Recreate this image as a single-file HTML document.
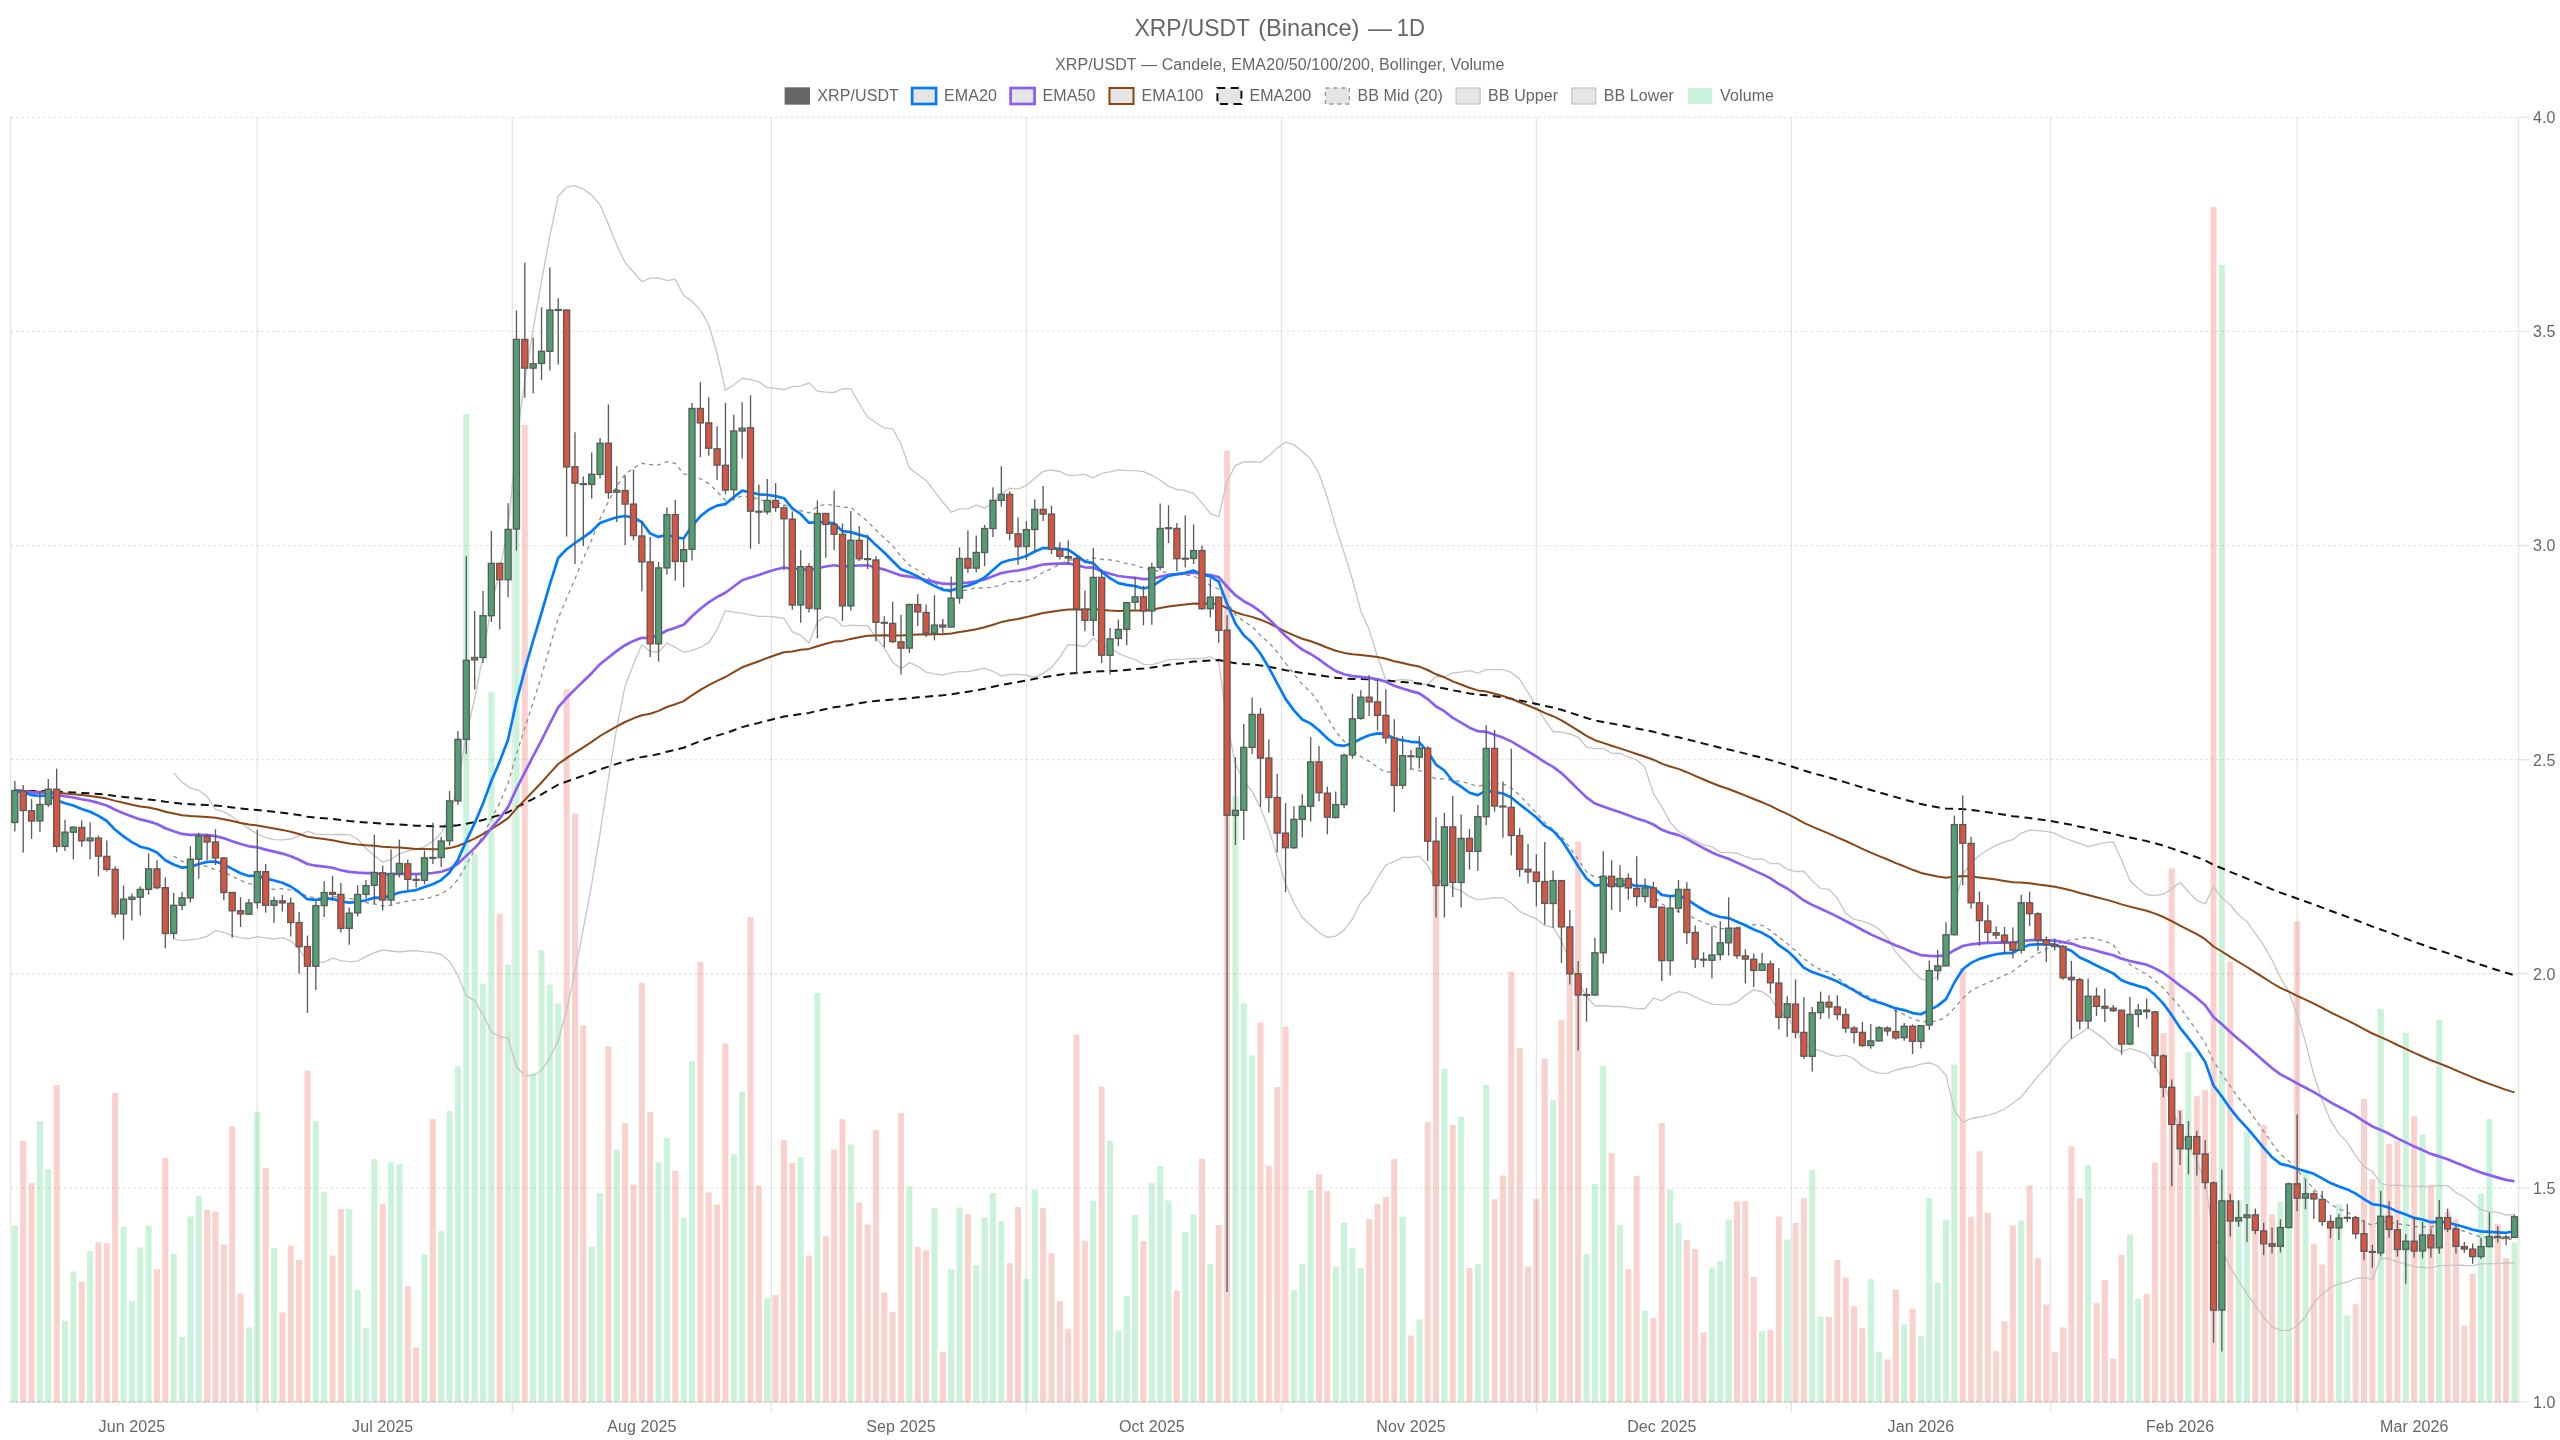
<!DOCTYPE html>
<html><head><meta charset="utf-8"><title>XRP/USDT</title>
<style>html,body{margin:0;padding:0;background:#fff;width:2560px;height:1440px;overflow:hidden}</style></head>
<body>
<svg width="2560" height="1440" viewBox="0 0 2560 1440" style="position:absolute;left:0;top:0;will-change:transform">
<g stroke="rgba(0,0,0,0.1)" stroke-width="1.33" fill="none">
<path d="M10.67 117.33 V1402.00"/>
<path d="M257.29 117.33 V1412.70"/>
<path d="M512.27 117.33 V1412.70"/>
<path d="M771.43 117.33 V1412.70"/>
<path d="M1026.41 117.33 V1412.70"/>
<path d="M1281.39 117.33 V1412.70"/>
<path d="M1536.37 117.33 V1412.70"/>
<path d="M1791.35 117.33 V1412.70"/>
<path d="M2050.51 117.33 V1412.70"/>
<path d="M2297.13 117.33 V1412.70"/>
<path d="M2518.67 117.33 V1402.00"/>
<path d="M10.67 1402.00 H2518.67"/>
</g>
<g stroke="rgba(0,0,0,0.1)" stroke-width="1.33" fill="none" stroke-dasharray="2.67 2.67">
<path d="M10.67 117.33 H2518.67"/>
<path d="M10.67 331.44 H2518.67"/>
<path d="M10.67 545.55 H2518.67"/>
<path d="M10.67 759.67 H2518.67"/>
<path d="M10.67 973.78 H2518.67"/>
<path d="M10.67 1187.89 H2518.67"/>
<path d="M10.67 1402.00 H2518.67"/>
</g>
<g stroke="rgba(0,0,0,0.1)" stroke-width="1.33" fill="none">
<path d="M2518.67 117.33 H2529.37"/>
<path d="M2518.67 331.44 H2529.37"/>
<path d="M2518.67 545.55 H2529.37"/>
<path d="M2518.67 759.67 H2529.37"/>
<path d="M2518.67 973.78 H2529.37"/>
<path d="M2518.67 1187.89 H2529.37"/>
<path d="M2518.67 1402.00 H2529.37"/>
</g>
<g>
<rect x="11.84" y="1225.5" width="6.02" height="176.5" fill="rgba(46,204,113,0.25)"/>
<rect x="20.20" y="1140.8" width="6.02" height="261.2" fill="rgba(231,76,60,0.25)"/>
<rect x="28.56" y="1183.2" width="6.02" height="218.8" fill="rgba(231,76,60,0.25)"/>
<rect x="36.92" y="1121.2" width="6.02" height="280.8" fill="rgba(46,204,113,0.25)"/>
<rect x="45.28" y="1169.2" width="6.02" height="232.8" fill="rgba(46,204,113,0.25)"/>
<rect x="53.64" y="1085.0" width="6.02" height="317.0" fill="rgba(231,76,60,0.25)"/>
<rect x="62.00" y="1320.8" width="6.02" height="81.2" fill="rgba(46,204,113,0.25)"/>
<rect x="70.36" y="1271.5" width="6.02" height="130.5" fill="rgba(46,204,113,0.25)"/>
<rect x="78.72" y="1281.5" width="6.02" height="120.5" fill="rgba(231,76,60,0.25)"/>
<rect x="87.08" y="1251.2" width="6.02" height="150.8" fill="rgba(46,204,113,0.25)"/>
<rect x="95.44" y="1242.2" width="6.02" height="159.8" fill="rgba(231,76,60,0.25)"/>
<rect x="103.80" y="1243.2" width="6.02" height="158.8" fill="rgba(231,76,60,0.25)"/>
<rect x="112.16" y="1093.0" width="6.02" height="309.0" fill="rgba(231,76,60,0.25)"/>
<rect x="120.52" y="1226.8" width="6.02" height="175.2" fill="rgba(46,204,113,0.25)"/>
<rect x="128.88" y="1301.2" width="6.02" height="100.8" fill="rgba(46,204,113,0.25)"/>
<rect x="137.24" y="1247.5" width="6.02" height="154.5" fill="rgba(46,204,113,0.25)"/>
<rect x="145.60" y="1225.5" width="6.02" height="176.5" fill="rgba(46,204,113,0.25)"/>
<rect x="153.96" y="1269.2" width="6.02" height="132.8" fill="rgba(231,76,60,0.25)"/>
<rect x="162.32" y="1158.0" width="6.02" height="244.0" fill="rgba(231,76,60,0.25)"/>
<rect x="170.68" y="1253.8" width="6.02" height="148.2" fill="rgba(46,204,113,0.25)"/>
<rect x="179.04" y="1337.0" width="6.02" height="65.0" fill="rgba(46,204,113,0.25)"/>
<rect x="187.40" y="1216.5" width="6.02" height="185.5" fill="rgba(46,204,113,0.25)"/>
<rect x="195.76" y="1195.8" width="6.02" height="206.2" fill="rgba(46,204,113,0.25)"/>
<rect x="204.12" y="1210.0" width="6.02" height="192.0" fill="rgba(231,76,60,0.25)"/>
<rect x="212.48" y="1211.5" width="6.02" height="190.5" fill="rgba(231,76,60,0.25)"/>
<rect x="220.84" y="1244.5" width="6.02" height="157.5" fill="rgba(231,76,60,0.25)"/>
<rect x="229.20" y="1126.2" width="6.02" height="275.8" fill="rgba(231,76,60,0.25)"/>
<rect x="237.56" y="1293.8" width="6.02" height="108.2" fill="rgba(231,76,60,0.25)"/>
<rect x="245.92" y="1327.5" width="6.02" height="74.5" fill="rgba(46,204,113,0.25)"/>
<rect x="254.28" y="1112.0" width="6.02" height="290.0" fill="rgba(46,204,113,0.25)"/>
<rect x="262.64" y="1168.0" width="6.02" height="234.0" fill="rgba(231,76,60,0.25)"/>
<rect x="271.00" y="1248.2" width="6.02" height="153.8" fill="rgba(46,204,113,0.25)"/>
<rect x="279.36" y="1312.5" width="6.02" height="89.5" fill="rgba(231,76,60,0.25)"/>
<rect x="287.72" y="1245.5" width="6.02" height="156.5" fill="rgba(231,76,60,0.25)"/>
<rect x="296.08" y="1260.0" width="6.02" height="142.0" fill="rgba(231,76,60,0.25)"/>
<rect x="304.44" y="1070.8" width="6.02" height="331.2" fill="rgba(231,76,60,0.25)"/>
<rect x="312.80" y="1121.2" width="6.02" height="280.8" fill="rgba(46,204,113,0.25)"/>
<rect x="321.16" y="1191.8" width="6.02" height="210.2" fill="rgba(46,204,113,0.25)"/>
<rect x="329.52" y="1255.5" width="6.02" height="146.5" fill="rgba(231,76,60,0.25)"/>
<rect x="337.88" y="1209.2" width="6.02" height="192.8" fill="rgba(231,76,60,0.25)"/>
<rect x="346.24" y="1208.8" width="6.02" height="193.2" fill="rgba(46,204,113,0.25)"/>
<rect x="354.60" y="1290.0" width="6.02" height="112.0" fill="rgba(46,204,113,0.25)"/>
<rect x="362.96" y="1328.2" width="6.02" height="73.8" fill="rgba(46,204,113,0.25)"/>
<rect x="371.32" y="1159.2" width="6.02" height="242.8" fill="rgba(46,204,113,0.25)"/>
<rect x="379.68" y="1204.0" width="6.02" height="198.0" fill="rgba(231,76,60,0.25)"/>
<rect x="388.04" y="1162.5" width="6.02" height="239.5" fill="rgba(46,204,113,0.25)"/>
<rect x="396.40" y="1164.2" width="6.02" height="237.8" fill="rgba(46,204,113,0.25)"/>
<rect x="404.76" y="1286.2" width="6.02" height="115.8" fill="rgba(231,76,60,0.25)"/>
<rect x="413.12" y="1347.5" width="6.02" height="54.5" fill="rgba(231,76,60,0.25)"/>
<rect x="421.48" y="1254.5" width="6.02" height="147.5" fill="rgba(46,204,113,0.25)"/>
<rect x="429.84" y="1119.2" width="6.02" height="282.8" fill="rgba(231,76,60,0.25)"/>
<rect x="438.20" y="1231.2" width="6.02" height="170.8" fill="rgba(46,204,113,0.25)"/>
<rect x="446.56" y="1111.2" width="6.02" height="290.8" fill="rgba(46,204,113,0.25)"/>
<rect x="454.92" y="1066.2" width="6.02" height="335.8" fill="rgba(46,204,113,0.25)"/>
<rect x="463.28" y="414.0" width="6.02" height="988.0" fill="rgba(46,204,113,0.25)"/>
<rect x="471.64" y="853.6" width="6.02" height="548.4" fill="rgba(46,204,113,0.25)"/>
<rect x="480.00" y="983.5" width="6.02" height="418.5" fill="rgba(46,204,113,0.25)"/>
<rect x="488.36" y="691.7" width="6.02" height="710.3" fill="rgba(46,204,113,0.25)"/>
<rect x="496.72" y="913.6" width="6.02" height="488.4" fill="rgba(231,76,60,0.25)"/>
<rect x="505.08" y="964.6" width="6.02" height="437.4" fill="rgba(46,204,113,0.25)"/>
<rect x="513.44" y="440.0" width="6.02" height="962.0" fill="rgba(46,204,113,0.25)"/>
<rect x="521.80" y="424.9" width="6.02" height="977.1" fill="rgba(231,76,60,0.25)"/>
<rect x="530.16" y="1073.0" width="6.02" height="329.0" fill="rgba(46,204,113,0.25)"/>
<rect x="538.52" y="950.0" width="6.02" height="452.0" fill="rgba(46,204,113,0.25)"/>
<rect x="546.88" y="984.5" width="6.02" height="417.5" fill="rgba(46,204,113,0.25)"/>
<rect x="555.24" y="1003.4" width="6.02" height="398.6" fill="rgba(46,204,113,0.25)"/>
<rect x="563.60" y="689.3" width="6.02" height="712.7" fill="rgba(231,76,60,0.25)"/>
<rect x="571.96" y="813.5" width="6.02" height="588.5" fill="rgba(231,76,60,0.25)"/>
<rect x="580.32" y="1025.5" width="6.02" height="376.5" fill="rgba(231,76,60,0.25)"/>
<rect x="588.68" y="1247.0" width="6.02" height="155.0" fill="rgba(46,204,113,0.25)"/>
<rect x="597.04" y="1193.0" width="6.02" height="209.0" fill="rgba(46,204,113,0.25)"/>
<rect x="605.40" y="1046.2" width="6.02" height="355.8" fill="rgba(231,76,60,0.25)"/>
<rect x="613.76" y="1149.5" width="6.02" height="252.5" fill="rgba(46,204,113,0.25)"/>
<rect x="622.12" y="1123.2" width="6.02" height="278.8" fill="rgba(231,76,60,0.25)"/>
<rect x="630.48" y="1184.5" width="6.02" height="217.5" fill="rgba(231,76,60,0.25)"/>
<rect x="638.84" y="983.0" width="6.02" height="419.0" fill="rgba(231,76,60,0.25)"/>
<rect x="647.20" y="1112.0" width="6.02" height="290.0" fill="rgba(231,76,60,0.25)"/>
<rect x="655.56" y="1162.5" width="6.02" height="239.5" fill="rgba(46,204,113,0.25)"/>
<rect x="663.92" y="1138.0" width="6.02" height="264.0" fill="rgba(46,204,113,0.25)"/>
<rect x="672.28" y="1170.8" width="6.02" height="231.2" fill="rgba(231,76,60,0.25)"/>
<rect x="680.64" y="1218.2" width="6.02" height="183.8" fill="rgba(46,204,113,0.25)"/>
<rect x="689.00" y="1061.2" width="6.02" height="340.8" fill="rgba(46,204,113,0.25)"/>
<rect x="697.36" y="962.0" width="6.02" height="440.0" fill="rgba(231,76,60,0.25)"/>
<rect x="705.72" y="1192.5" width="6.02" height="209.5" fill="rgba(231,76,60,0.25)"/>
<rect x="714.08" y="1204.5" width="6.02" height="197.5" fill="rgba(231,76,60,0.25)"/>
<rect x="722.44" y="1043.5" width="6.02" height="358.5" fill="rgba(231,76,60,0.25)"/>
<rect x="730.80" y="1154.2" width="6.02" height="247.8" fill="rgba(46,204,113,0.25)"/>
<rect x="739.16" y="1091.8" width="6.02" height="310.2" fill="rgba(46,204,113,0.25)"/>
<rect x="747.52" y="917.0" width="6.02" height="485.0" fill="rgba(231,76,60,0.25)"/>
<rect x="755.88" y="1185.5" width="6.02" height="216.5" fill="rgba(231,76,60,0.25)"/>
<rect x="764.24" y="1298.2" width="6.02" height="103.8" fill="rgba(46,204,113,0.25)"/>
<rect x="772.60" y="1295.0" width="6.02" height="107.0" fill="rgba(231,76,60,0.25)"/>
<rect x="780.96" y="1140.0" width="6.02" height="262.0" fill="rgba(231,76,60,0.25)"/>
<rect x="789.32" y="1163.0" width="6.02" height="239.0" fill="rgba(231,76,60,0.25)"/>
<rect x="797.68" y="1157.0" width="6.02" height="245.0" fill="rgba(46,204,113,0.25)"/>
<rect x="806.04" y="1255.5" width="6.02" height="146.5" fill="rgba(231,76,60,0.25)"/>
<rect x="814.40" y="993.0" width="6.02" height="409.0" fill="rgba(46,204,113,0.25)"/>
<rect x="822.76" y="1236.2" width="6.02" height="165.8" fill="rgba(231,76,60,0.25)"/>
<rect x="831.12" y="1149.5" width="6.02" height="252.5" fill="rgba(231,76,60,0.25)"/>
<rect x="839.48" y="1119.2" width="6.02" height="282.8" fill="rgba(231,76,60,0.25)"/>
<rect x="847.84" y="1144.5" width="6.02" height="257.5" fill="rgba(46,204,113,0.25)"/>
<rect x="856.20" y="1202.5" width="6.02" height="199.5" fill="rgba(231,76,60,0.25)"/>
<rect x="864.56" y="1224.5" width="6.02" height="177.5" fill="rgba(231,76,60,0.25)"/>
<rect x="872.92" y="1130.0" width="6.02" height="272.0" fill="rgba(231,76,60,0.25)"/>
<rect x="881.28" y="1292.5" width="6.02" height="109.5" fill="rgba(231,76,60,0.25)"/>
<rect x="889.64" y="1311.8" width="6.02" height="90.2" fill="rgba(231,76,60,0.25)"/>
<rect x="898.00" y="1113.2" width="6.02" height="288.8" fill="rgba(231,76,60,0.25)"/>
<rect x="906.36" y="1186.2" width="6.02" height="215.8" fill="rgba(46,204,113,0.25)"/>
<rect x="914.72" y="1246.8" width="6.02" height="155.2" fill="rgba(231,76,60,0.25)"/>
<rect x="923.08" y="1250.5" width="6.02" height="151.5" fill="rgba(231,76,60,0.25)"/>
<rect x="931.44" y="1208.0" width="6.02" height="194.0" fill="rgba(46,204,113,0.25)"/>
<rect x="939.80" y="1351.8" width="6.02" height="50.2" fill="rgba(231,76,60,0.25)"/>
<rect x="948.16" y="1269.2" width="6.02" height="132.8" fill="rgba(46,204,113,0.25)"/>
<rect x="956.52" y="1207.5" width="6.02" height="194.5" fill="rgba(46,204,113,0.25)"/>
<rect x="964.88" y="1214.5" width="6.02" height="187.5" fill="rgba(231,76,60,0.25)"/>
<rect x="973.24" y="1265.0" width="6.02" height="137.0" fill="rgba(46,204,113,0.25)"/>
<rect x="981.60" y="1217.5" width="6.02" height="184.5" fill="rgba(46,204,113,0.25)"/>
<rect x="989.96" y="1193.0" width="6.02" height="209.0" fill="rgba(46,204,113,0.25)"/>
<rect x="998.32" y="1221.2" width="6.02" height="180.8" fill="rgba(46,204,113,0.25)"/>
<rect x="1006.68" y="1263.2" width="6.02" height="138.8" fill="rgba(231,76,60,0.25)"/>
<rect x="1015.04" y="1207.0" width="6.02" height="195.0" fill="rgba(231,76,60,0.25)"/>
<rect x="1023.40" y="1278.8" width="6.02" height="123.2" fill="rgba(46,204,113,0.25)"/>
<rect x="1031.76" y="1189.5" width="6.02" height="212.5" fill="rgba(46,204,113,0.25)"/>
<rect x="1040.12" y="1208.0" width="6.02" height="194.0" fill="rgba(231,76,60,0.25)"/>
<rect x="1048.48" y="1253.2" width="6.02" height="148.8" fill="rgba(231,76,60,0.25)"/>
<rect x="1056.84" y="1301.2" width="6.02" height="100.8" fill="rgba(231,76,60,0.25)"/>
<rect x="1065.20" y="1328.8" width="6.02" height="73.2" fill="rgba(231,76,60,0.25)"/>
<rect x="1073.56" y="1035.0" width="6.02" height="367.0" fill="rgba(231,76,60,0.25)"/>
<rect x="1081.92" y="1240.8" width="6.02" height="161.2" fill="rgba(231,76,60,0.25)"/>
<rect x="1090.28" y="1200.8" width="6.02" height="201.2" fill="rgba(46,204,113,0.25)"/>
<rect x="1098.64" y="1086.8" width="6.02" height="315.2" fill="rgba(231,76,60,0.25)"/>
<rect x="1107.00" y="1140.8" width="6.02" height="261.2" fill="rgba(46,204,113,0.25)"/>
<rect x="1115.36" y="1330.5" width="6.02" height="71.5" fill="rgba(46,204,113,0.25)"/>
<rect x="1123.72" y="1296.2" width="6.02" height="105.8" fill="rgba(46,204,113,0.25)"/>
<rect x="1132.08" y="1215.0" width="6.02" height="187.0" fill="rgba(46,204,113,0.25)"/>
<rect x="1140.44" y="1240.8" width="6.02" height="161.2" fill="rgba(231,76,60,0.25)"/>
<rect x="1148.80" y="1183.2" width="6.02" height="218.8" fill="rgba(46,204,113,0.25)"/>
<rect x="1157.16" y="1166.2" width="6.02" height="235.8" fill="rgba(46,204,113,0.25)"/>
<rect x="1165.52" y="1200.5" width="6.02" height="201.5" fill="rgba(46,204,113,0.25)"/>
<rect x="1173.88" y="1290.8" width="6.02" height="111.2" fill="rgba(231,76,60,0.25)"/>
<rect x="1182.24" y="1232.0" width="6.02" height="170.0" fill="rgba(46,204,113,0.25)"/>
<rect x="1190.60" y="1214.2" width="6.02" height="187.8" fill="rgba(46,204,113,0.25)"/>
<rect x="1198.96" y="1158.8" width="6.02" height="243.2" fill="rgba(231,76,60,0.25)"/>
<rect x="1207.32" y="1264.2" width="6.02" height="137.8" fill="rgba(46,204,113,0.25)"/>
<rect x="1215.68" y="1225.0" width="6.02" height="177.0" fill="rgba(231,76,60,0.25)"/>
<rect x="1224.04" y="450.6" width="6.02" height="951.4" fill="rgba(231,76,60,0.25)"/>
<rect x="1232.40" y="795.8" width="6.02" height="606.2" fill="rgba(46,204,113,0.25)"/>
<rect x="1240.76" y="1003.4" width="6.02" height="398.6" fill="rgba(46,204,113,0.25)"/>
<rect x="1249.12" y="1055.5" width="6.02" height="346.5" fill="rgba(46,204,113,0.25)"/>
<rect x="1257.48" y="1022.5" width="6.02" height="379.5" fill="rgba(231,76,60,0.25)"/>
<rect x="1265.84" y="1165.5" width="6.02" height="236.5" fill="rgba(231,76,60,0.25)"/>
<rect x="1274.20" y="1087.0" width="6.02" height="315.0" fill="rgba(231,76,60,0.25)"/>
<rect x="1282.56" y="1026.7" width="6.02" height="375.3" fill="rgba(231,76,60,0.25)"/>
<rect x="1290.92" y="1290.0" width="6.02" height="112.0" fill="rgba(46,204,113,0.25)"/>
<rect x="1299.28" y="1264.2" width="6.02" height="137.8" fill="rgba(46,204,113,0.25)"/>
<rect x="1307.64" y="1190.0" width="6.02" height="212.0" fill="rgba(46,204,113,0.25)"/>
<rect x="1316.00" y="1174.2" width="6.02" height="227.8" fill="rgba(231,76,60,0.25)"/>
<rect x="1324.36" y="1191.2" width="6.02" height="210.8" fill="rgba(231,76,60,0.25)"/>
<rect x="1332.72" y="1267.0" width="6.02" height="135.0" fill="rgba(46,204,113,0.25)"/>
<rect x="1341.08" y="1222.5" width="6.02" height="179.5" fill="rgba(46,204,113,0.25)"/>
<rect x="1349.44" y="1248.2" width="6.02" height="153.8" fill="rgba(46,204,113,0.25)"/>
<rect x="1357.80" y="1268.0" width="6.02" height="134.0" fill="rgba(46,204,113,0.25)"/>
<rect x="1366.16" y="1219.2" width="6.02" height="182.8" fill="rgba(231,76,60,0.25)"/>
<rect x="1374.52" y="1203.8" width="6.02" height="198.2" fill="rgba(231,76,60,0.25)"/>
<rect x="1382.88" y="1197.0" width="6.02" height="205.0" fill="rgba(231,76,60,0.25)"/>
<rect x="1391.24" y="1158.8" width="6.02" height="243.2" fill="rgba(231,76,60,0.25)"/>
<rect x="1399.60" y="1216.8" width="6.02" height="185.2" fill="rgba(46,204,113,0.25)"/>
<rect x="1407.96" y="1335.5" width="6.02" height="66.5" fill="rgba(231,76,60,0.25)"/>
<rect x="1416.32" y="1319.5" width="6.02" height="82.5" fill="rgba(46,204,113,0.25)"/>
<rect x="1424.68" y="1122.0" width="6.02" height="280.0" fill="rgba(231,76,60,0.25)"/>
<rect x="1433.04" y="860.0" width="6.02" height="542.0" fill="rgba(231,76,60,0.25)"/>
<rect x="1441.40" y="1068.8" width="6.02" height="333.2" fill="rgba(46,204,113,0.25)"/>
<rect x="1449.76" y="1125.0" width="6.02" height="277.0" fill="rgba(231,76,60,0.25)"/>
<rect x="1458.12" y="1116.8" width="6.02" height="285.2" fill="rgba(46,204,113,0.25)"/>
<rect x="1466.48" y="1268.0" width="6.02" height="134.0" fill="rgba(231,76,60,0.25)"/>
<rect x="1474.84" y="1264.2" width="6.02" height="137.8" fill="rgba(46,204,113,0.25)"/>
<rect x="1483.20" y="1085.0" width="6.02" height="317.0" fill="rgba(46,204,113,0.25)"/>
<rect x="1491.56" y="1199.2" width="6.02" height="202.8" fill="rgba(231,76,60,0.25)"/>
<rect x="1499.92" y="1175.5" width="6.02" height="226.5" fill="rgba(231,76,60,0.25)"/>
<rect x="1508.28" y="971.6" width="6.02" height="430.4" fill="rgba(231,76,60,0.25)"/>
<rect x="1516.64" y="1048.2" width="6.02" height="353.8" fill="rgba(231,76,60,0.25)"/>
<rect x="1525.00" y="1266.8" width="6.02" height="135.2" fill="rgba(231,76,60,0.25)"/>
<rect x="1533.36" y="1199.2" width="6.02" height="202.8" fill="rgba(231,76,60,0.25)"/>
<rect x="1541.72" y="1058.8" width="6.02" height="343.2" fill="rgba(231,76,60,0.25)"/>
<rect x="1550.08" y="1100.5" width="6.02" height="301.5" fill="rgba(46,204,113,0.25)"/>
<rect x="1558.44" y="1020.3" width="6.02" height="381.7" fill="rgba(231,76,60,0.25)"/>
<rect x="1566.80" y="950.0" width="6.02" height="452.0" fill="rgba(231,76,60,0.25)"/>
<rect x="1575.16" y="841.6" width="6.02" height="560.4" fill="rgba(231,76,60,0.25)"/>
<rect x="1583.52" y="1253.8" width="6.02" height="148.2" fill="rgba(46,204,113,0.25)"/>
<rect x="1591.88" y="1183.8" width="6.02" height="218.2" fill="rgba(46,204,113,0.25)"/>
<rect x="1600.24" y="1066.2" width="6.02" height="335.8" fill="rgba(46,204,113,0.25)"/>
<rect x="1608.60" y="1153.2" width="6.02" height="248.8" fill="rgba(231,76,60,0.25)"/>
<rect x="1616.96" y="1225.0" width="6.02" height="177.0" fill="rgba(46,204,113,0.25)"/>
<rect x="1625.32" y="1269.2" width="6.02" height="132.8" fill="rgba(231,76,60,0.25)"/>
<rect x="1633.68" y="1176.0" width="6.02" height="226.0" fill="rgba(231,76,60,0.25)"/>
<rect x="1642.04" y="1310.8" width="6.02" height="91.2" fill="rgba(46,204,113,0.25)"/>
<rect x="1650.40" y="1318.0" width="6.02" height="84.0" fill="rgba(231,76,60,0.25)"/>
<rect x="1658.76" y="1123.0" width="6.02" height="279.0" fill="rgba(231,76,60,0.25)"/>
<rect x="1667.12" y="1189.5" width="6.02" height="212.5" fill="rgba(46,204,113,0.25)"/>
<rect x="1675.48" y="1223.0" width="6.02" height="179.0" fill="rgba(46,204,113,0.25)"/>
<rect x="1683.84" y="1240.0" width="6.02" height="162.0" fill="rgba(231,76,60,0.25)"/>
<rect x="1692.20" y="1249.2" width="6.02" height="152.8" fill="rgba(231,76,60,0.25)"/>
<rect x="1700.56" y="1332.5" width="6.02" height="69.5" fill="rgba(231,76,60,0.25)"/>
<rect x="1708.92" y="1267.5" width="6.02" height="134.5" fill="rgba(46,204,113,0.25)"/>
<rect x="1717.28" y="1260.8" width="6.02" height="141.2" fill="rgba(46,204,113,0.25)"/>
<rect x="1725.64" y="1219.5" width="6.02" height="182.5" fill="rgba(46,204,113,0.25)"/>
<rect x="1734.00" y="1201.2" width="6.02" height="200.8" fill="rgba(231,76,60,0.25)"/>
<rect x="1742.36" y="1201.2" width="6.02" height="200.8" fill="rgba(231,76,60,0.25)"/>
<rect x="1750.72" y="1277.0" width="6.02" height="125.0" fill="rgba(231,76,60,0.25)"/>
<rect x="1759.08" y="1331.2" width="6.02" height="70.8" fill="rgba(46,204,113,0.25)"/>
<rect x="1767.44" y="1330.0" width="6.02" height="72.0" fill="rgba(231,76,60,0.25)"/>
<rect x="1775.80" y="1216.5" width="6.02" height="185.5" fill="rgba(231,76,60,0.25)"/>
<rect x="1784.16" y="1239.5" width="6.02" height="162.5" fill="rgba(46,204,113,0.25)"/>
<rect x="1792.52" y="1223.0" width="6.02" height="179.0" fill="rgba(231,76,60,0.25)"/>
<rect x="1800.88" y="1198.2" width="6.02" height="203.8" fill="rgba(231,76,60,0.25)"/>
<rect x="1809.24" y="1170.0" width="6.02" height="232.0" fill="rgba(46,204,113,0.25)"/>
<rect x="1817.60" y="1317.0" width="6.02" height="85.0" fill="rgba(46,204,113,0.25)"/>
<rect x="1825.96" y="1317.0" width="6.02" height="85.0" fill="rgba(231,76,60,0.25)"/>
<rect x="1834.32" y="1260.0" width="6.02" height="142.0" fill="rgba(231,76,60,0.25)"/>
<rect x="1842.68" y="1277.5" width="6.02" height="124.5" fill="rgba(231,76,60,0.25)"/>
<rect x="1851.04" y="1306.2" width="6.02" height="95.8" fill="rgba(231,76,60,0.25)"/>
<rect x="1859.40" y="1328.2" width="6.02" height="73.8" fill="rgba(231,76,60,0.25)"/>
<rect x="1867.76" y="1279.2" width="6.02" height="122.8" fill="rgba(46,204,113,0.25)"/>
<rect x="1876.12" y="1352.0" width="6.02" height="50.0" fill="rgba(46,204,113,0.25)"/>
<rect x="1884.48" y="1359.5" width="6.02" height="42.5" fill="rgba(231,76,60,0.25)"/>
<rect x="1892.84" y="1289.5" width="6.02" height="112.5" fill="rgba(231,76,60,0.25)"/>
<rect x="1901.20" y="1324.5" width="6.02" height="77.5" fill="rgba(46,204,113,0.25)"/>
<rect x="1909.56" y="1308.8" width="6.02" height="93.2" fill="rgba(231,76,60,0.25)"/>
<rect x="1917.92" y="1336.2" width="6.02" height="65.8" fill="rgba(46,204,113,0.25)"/>
<rect x="1926.28" y="1198.0" width="6.02" height="204.0" fill="rgba(46,204,113,0.25)"/>
<rect x="1934.64" y="1283.0" width="6.02" height="119.0" fill="rgba(46,204,113,0.25)"/>
<rect x="1943.00" y="1219.5" width="6.02" height="182.5" fill="rgba(46,204,113,0.25)"/>
<rect x="1951.36" y="1064.5" width="6.02" height="337.5" fill="rgba(46,204,113,0.25)"/>
<rect x="1959.72" y="968.0" width="6.02" height="434.0" fill="rgba(231,76,60,0.25)"/>
<rect x="1968.08" y="1216.8" width="6.02" height="185.2" fill="rgba(231,76,60,0.25)"/>
<rect x="1976.44" y="1151.2" width="6.02" height="250.8" fill="rgba(231,76,60,0.25)"/>
<rect x="1984.80" y="1213.0" width="6.02" height="189.0" fill="rgba(231,76,60,0.25)"/>
<rect x="1993.16" y="1351.2" width="6.02" height="50.8" fill="rgba(231,76,60,0.25)"/>
<rect x="2001.52" y="1321.2" width="6.02" height="80.8" fill="rgba(231,76,60,0.25)"/>
<rect x="2009.88" y="1225.5" width="6.02" height="176.5" fill="rgba(231,76,60,0.25)"/>
<rect x="2018.24" y="1220.5" width="6.02" height="181.5" fill="rgba(46,204,113,0.25)"/>
<rect x="2026.60" y="1185.5" width="6.02" height="216.5" fill="rgba(231,76,60,0.25)"/>
<rect x="2034.96" y="1258.2" width="6.02" height="143.8" fill="rgba(231,76,60,0.25)"/>
<rect x="2043.32" y="1304.5" width="6.02" height="97.5" fill="rgba(231,76,60,0.25)"/>
<rect x="2051.68" y="1352.0" width="6.02" height="50.0" fill="rgba(231,76,60,0.25)"/>
<rect x="2060.04" y="1327.5" width="6.02" height="74.5" fill="rgba(231,76,60,0.25)"/>
<rect x="2068.40" y="1146.2" width="6.02" height="255.8" fill="rgba(231,76,60,0.25)"/>
<rect x="2076.76" y="1198.0" width="6.02" height="204.0" fill="rgba(231,76,60,0.25)"/>
<rect x="2085.12" y="1165.0" width="6.02" height="237.0" fill="rgba(46,204,113,0.25)"/>
<rect x="2093.48" y="1303.2" width="6.02" height="98.8" fill="rgba(231,76,60,0.25)"/>
<rect x="2101.84" y="1280.0" width="6.02" height="122.0" fill="rgba(231,76,60,0.25)"/>
<rect x="2110.20" y="1358.8" width="6.02" height="43.2" fill="rgba(231,76,60,0.25)"/>
<rect x="2118.56" y="1255.0" width="6.02" height="147.0" fill="rgba(231,76,60,0.25)"/>
<rect x="2126.92" y="1234.5" width="6.02" height="167.5" fill="rgba(46,204,113,0.25)"/>
<rect x="2135.28" y="1298.8" width="6.02" height="103.2" fill="rgba(46,204,113,0.25)"/>
<rect x="2143.64" y="1293.8" width="6.02" height="108.2" fill="rgba(231,76,60,0.25)"/>
<rect x="2152.00" y="1162.5" width="6.02" height="239.5" fill="rgba(231,76,60,0.25)"/>
<rect x="2160.36" y="1033.0" width="6.02" height="369.0" fill="rgba(231,76,60,0.25)"/>
<rect x="2168.72" y="868.4" width="6.02" height="533.6" fill="rgba(231,76,60,0.25)"/>
<rect x="2177.08" y="1109.5" width="6.02" height="292.5" fill="rgba(231,76,60,0.25)"/>
<rect x="2185.44" y="1051.8" width="6.02" height="350.2" fill="rgba(46,204,113,0.25)"/>
<rect x="2193.80" y="1096.2" width="6.02" height="305.8" fill="rgba(231,76,60,0.25)"/>
<rect x="2202.16" y="1090.0" width="6.02" height="312.0" fill="rgba(231,76,60,0.25)"/>
<rect x="2210.52" y="206.9" width="6.02" height="1195.1" fill="rgba(231,76,60,0.25)"/>
<rect x="2218.88" y="264.9" width="6.02" height="1137.1" fill="rgba(46,204,113,0.25)"/>
<rect x="2227.24" y="961.6" width="6.02" height="440.4" fill="rgba(231,76,60,0.25)"/>
<rect x="2235.60" y="1200.0" width="6.02" height="202.0" fill="rgba(46,204,113,0.25)"/>
<rect x="2243.96" y="1132.0" width="6.02" height="270.0" fill="rgba(46,204,113,0.25)"/>
<rect x="2252.32" y="1221.0" width="6.02" height="181.0" fill="rgba(231,76,60,0.25)"/>
<rect x="2260.68" y="1125.0" width="6.02" height="277.0" fill="rgba(231,76,60,0.25)"/>
<rect x="2269.04" y="1214.5" width="6.02" height="187.5" fill="rgba(231,76,60,0.25)"/>
<rect x="2277.40" y="1201.8" width="6.02" height="200.2" fill="rgba(46,204,113,0.25)"/>
<rect x="2285.76" y="1200.0" width="6.02" height="202.0" fill="rgba(46,204,113,0.25)"/>
<rect x="2294.12" y="921.3" width="6.02" height="480.7" fill="rgba(231,76,60,0.25)"/>
<rect x="2302.48" y="1169.2" width="6.02" height="232.8" fill="rgba(46,204,113,0.25)"/>
<rect x="2310.84" y="1243.8" width="6.02" height="158.2" fill="rgba(231,76,60,0.25)"/>
<rect x="2319.20" y="1264.5" width="6.02" height="137.5" fill="rgba(231,76,60,0.25)"/>
<rect x="2327.56" y="1224.0" width="6.02" height="178.0" fill="rgba(231,76,60,0.25)"/>
<rect x="2335.92" y="1203.8" width="6.02" height="198.2" fill="rgba(46,204,113,0.25)"/>
<rect x="2344.28" y="1315.5" width="6.02" height="86.5" fill="rgba(46,204,113,0.25)"/>
<rect x="2352.64" y="1304.2" width="6.02" height="97.8" fill="rgba(231,76,60,0.25)"/>
<rect x="2361.00" y="1098.8" width="6.02" height="303.2" fill="rgba(231,76,60,0.25)"/>
<rect x="2369.36" y="1179.2" width="6.02" height="222.8" fill="rgba(231,76,60,0.25)"/>
<rect x="2377.72" y="1008.9" width="6.02" height="393.1" fill="rgba(46,204,113,0.25)"/>
<rect x="2386.08" y="1144.2" width="6.02" height="257.8" fill="rgba(231,76,60,0.25)"/>
<rect x="2394.44" y="1141.2" width="6.02" height="260.8" fill="rgba(231,76,60,0.25)"/>
<rect x="2402.80" y="1032.9" width="6.02" height="369.1" fill="rgba(46,204,113,0.25)"/>
<rect x="2411.16" y="1116.2" width="6.02" height="285.8" fill="rgba(231,76,60,0.25)"/>
<rect x="2419.52" y="1134.5" width="6.02" height="267.5" fill="rgba(46,204,113,0.25)"/>
<rect x="2427.88" y="1184.7" width="6.02" height="217.3" fill="rgba(231,76,60,0.25)"/>
<rect x="2436.24" y="1020.0" width="6.02" height="382.0" fill="rgba(46,204,113,0.25)"/>
<rect x="2444.60" y="1212.0" width="6.02" height="190.0" fill="rgba(231,76,60,0.25)"/>
<rect x="2452.96" y="1219.5" width="6.02" height="182.5" fill="rgba(231,76,60,0.25)"/>
<rect x="2461.32" y="1325.8" width="6.02" height="76.2" fill="rgba(231,76,60,0.25)"/>
<rect x="2469.68" y="1273.8" width="6.02" height="128.2" fill="rgba(231,76,60,0.25)"/>
<rect x="2478.04" y="1193.8" width="6.02" height="208.2" fill="rgba(46,204,113,0.25)"/>
<rect x="2486.40" y="1119.2" width="6.02" height="282.8" fill="rgba(46,204,113,0.25)"/>
<rect x="2494.76" y="1223.8" width="6.02" height="178.2" fill="rgba(231,76,60,0.25)"/>
<rect x="2503.12" y="1258.0" width="6.02" height="144.0" fill="rgba(231,76,60,0.25)"/>
<rect x="2511.48" y="1242.5" width="6.02" height="159.5" fill="rgba(46,204,113,0.25)"/>
</g>
<path d="M173.7 939.1 L182.0 940.7 L190.4 939.6 L198.8 938.9 L207.1 936.4 L215.5 930.4 L223.8 932.5 L232.2 935.7 L240.6 937.8 L248.9 938.6 L257.3 936.6 L265.6 937.9 L274.0 939.0 L282.4 937.6 L290.7 940.8 L299.1 948.9 L307.4 961.3 L315.8 962.0 L324.2 962.1 L332.5 958.1 L340.9 960.7 L349.2 961.8 L357.6 961.1 L366.0 956.6 L374.3 952.6 L382.7 950.0 L391.1 951.0 L399.4 952.0 L407.8 951.0 L416.1 950.7 L424.5 951.9 L432.8 952.4 L441.2 954.5 L449.6 961.4 L457.9 975.4 L466.3 995.9 L474.6 1000.6 L483.0 1014.8 L491.4 1031.7 L499.7 1036.8 L508.1 1037.8 L516.4 1066.8 L524.8 1075.7 L533.2 1075.7 L541.5 1070.6 L549.9 1057.6 L558.2 1040.5 L566.6 1009.9 L575.0 971.8 L583.3 928.6 L591.7 884.4 L600.0 833.3 L608.4 779.0 L616.8 727.1 L625.1 685.9 L633.5 664.2 L641.8 644.8 L650.2 651.3 L658.6 652.0 L666.9 642.8 L675.3 647.3 L683.6 652.3 L692.0 650.3 L700.4 647.5 L708.7 642.7 L717.1 629.6 L725.4 610.7 L733.8 612.2 L742.2 613.4 L750.5 614.8 L758.9 616.3 L767.2 616.3 L775.6 617.0 L784.0 618.5 L792.3 631.7 L800.7 635.3 L809.0 643.0 L817.4 621.8 L825.8 616.5 L834.1 618.2 L842.5 626.3 L850.8 625.2 L859.2 625.6 L867.6 625.6 L875.9 637.5 L884.3 648.2 L892.6 662.2 L901.0 668.7 L909.4 662.6 L917.7 666.3 L926.1 672.1 L934.4 673.9 L942.8 675.0 L951.2 672.8 L959.5 671.6 L967.9 671.6 L976.2 670.0 L984.6 668.2 L993.0 671.4 L1001.3 676.0 L1009.7 674.5 L1018.0 674.3 L1026.4 675.1 L1034.8 677.2 L1043.1 673.3 L1051.5 667.4 L1059.8 657.4 L1068.2 644.5 L1076.6 645.2 L1084.9 646.7 L1093.3 637.8 L1101.7 645.2 L1110.0 647.8 L1118.4 653.1 L1126.7 657.0 L1135.1 659.5 L1143.5 664.3 L1151.8 664.6 L1160.2 662.6 L1168.5 659.6 L1176.9 659.3 L1185.2 659.2 L1193.6 658.5 L1202.0 658.7 L1210.3 656.7 L1218.7 661.4 L1227.0 722.8 L1235.4 763.7 L1243.8 781.4 L1252.1 791.2 L1260.5 808.1 L1268.8 829.1 L1277.2 856.4 L1285.6 884.0 L1293.9 903.0 L1302.3 917.5 L1310.7 924.9 L1319.0 932.7 L1327.4 937.5 L1335.7 936.1 L1344.1 930.1 L1352.5 918.9 L1360.8 902.3 L1369.2 893.0 L1377.5 877.8 L1385.9 865.0 L1394.2 861.6 L1402.6 857.3 L1411.0 857.4 L1419.3 856.1 L1427.7 865.3 L1436.0 881.6 L1444.4 880.6 L1452.8 888.0 L1461.1 890.6 L1469.5 896.6 L1477.8 899.8 L1486.2 898.7 L1494.6 897.6 L1502.9 897.8 L1511.3 903.2 L1519.6 911.3 L1528.0 915.4 L1536.4 918.9 L1544.7 925.3 L1553.1 927.6 L1561.5 941.1 L1569.8 961.1 L1578.2 981.9 L1586.5 996.5 L1594.9 1006.0 L1603.2 1005.5 L1611.6 1006.5 L1620.0 1006.3 L1628.3 1007.4 L1636.7 1008.9 L1645.0 1008.5 L1653.4 998.2 L1661.8 1000.8 L1670.1 995.1 L1678.5 991.6 L1686.8 992.9 L1695.2 997.0 L1703.6 1000.9 L1711.9 1004.1 L1720.3 1004.7 L1728.6 1004.8 L1737.0 1002.1 L1745.4 995.3 L1753.7 990.0 L1762.1 991.7 L1770.5 997.6 L1778.8 1010.8 L1787.2 1017.4 L1795.5 1029.5 L1803.9 1045.9 L1812.2 1048.8 L1820.6 1050.7 L1829.0 1054.5 L1837.3 1056.3 L1845.7 1055.1 L1854.0 1058.9 L1862.4 1065.9 L1870.8 1071.0 L1879.1 1073.1 L1887.5 1073.3 L1895.8 1070.0 L1904.2 1068.0 L1912.6 1066.8 L1920.9 1064.2 L1929.3 1062.8 L1937.6 1065.7 L1946.0 1075.3 L1954.4 1110.1 L1962.7 1122.5 L1971.1 1118.5 L1979.5 1117.0 L1987.8 1115.3 L1996.2 1112.8 L2004.5 1109.0 L2012.9 1103.3 L2021.2 1097.0 L2029.6 1086.7 L2038.0 1076.1 L2046.3 1067.2 L2054.7 1056.8 L2063.0 1046.7 L2071.4 1038.7 L2079.8 1033.8 L2088.1 1027.7 L2096.5 1033.4 L2104.8 1039.6 L2113.2 1047.9 L2121.6 1051.8 L2129.9 1048.4 L2138.3 1051.0 L2146.7 1054.2 L2155.0 1065.3 L2163.4 1082.1 L2171.7 1105.8 L2180.1 1131.8 L2188.4 1146.0 L2196.8 1161.3 L2205.2 1182.2 L2213.5 1235.6 L2221.9 1250.0 L2230.2 1267.4 L2238.6 1281.0 L2247.0 1293.9 L2255.3 1305.5 L2263.7 1317.3 L2272.0 1326.6 L2280.4 1330.3 L2288.8 1330.3 L2297.1 1326.0 L2305.5 1316.9 L2313.8 1302.8 L2322.2 1294.0 L2330.6 1287.6 L2338.9 1283.9 L2347.3 1282.2 L2355.7 1278.3 L2364.0 1277.5 L2372.4 1279.4 L2380.7 1258.3 L2389.1 1258.7 L2397.4 1262.0 L2405.8 1263.8 L2414.2 1266.9 L2422.5 1267.3 L2430.9 1267.9 L2439.2 1265.6 L2447.6 1265.7 L2456.0 1264.9 L2464.3 1265.5 L2472.7 1265.7 L2481.0 1263.8 L2489.4 1263.6 L2497.8 1263.7 L2506.1 1263.0 L2514.5 1263.1" fill="none" stroke="#c6c6c6" stroke-width="1.33"/>
<path d="M173.7 772.9 L182.0 782.1 L190.4 788.1 L198.8 790.3 L207.1 796.5 L215.5 809.4 L223.8 811.9 L232.2 816.6 L240.6 823.2 L248.9 828.6 L257.3 834.0 L265.6 837.6 L274.0 839.6 L282.4 839.9 L290.7 839.0 L299.1 835.8 L307.4 831.2 L315.8 834.2 L324.2 834.5 L332.5 834.6 L340.9 834.3 L349.2 834.7 L357.6 839.0 L366.0 848.4 L374.3 855.4 L382.7 862.3 L391.1 859.4 L399.4 853.7 L407.8 851.2 L416.1 849.2 L424.5 846.6 L432.8 841.2 L441.2 833.2 L449.6 816.1 L457.9 783.8 L466.3 734.6 L474.6 699.1 L483.0 655.8 L491.4 606.1 L499.7 569.5 L508.1 528.6 L516.4 442.2 L524.8 380.7 L533.2 328.5 L541.5 281.5 L549.9 235.5 L558.2 196.2 L566.6 187.2 L575.0 185.6 L583.3 189.2 L591.7 195.1 L600.0 204.8 L608.4 224.2 L616.8 245.1 L625.1 262.7 L633.5 272.0 L641.8 281.8 L650.2 278.2 L658.6 277.9 L666.9 280.6 L675.3 279.3 L683.6 295.3 L692.0 301.3 L700.4 310.1 L708.7 324.6 L717.1 353.2 L725.4 390.1 L733.8 385.0 L742.2 378.3 L750.5 379.7 L758.9 381.9 L767.2 387.6 L775.6 388.4 L784.0 389.7 L792.3 386.6 L800.7 386.1 L809.0 383.1 L817.4 391.2 L825.8 392.2 L834.1 392.5 L842.5 388.7 L850.8 388.9 L859.2 403.5 L867.6 417.1 L875.9 422.7 L884.3 427.8 L892.6 428.9 L901.0 444.1 L909.4 467.9 L917.7 474.2 L926.1 480.5 L934.4 491.2 L942.8 502.1 L951.2 512.2 L959.5 508.8 L967.9 508.9 L976.2 505.0 L984.6 508.2 L993.0 502.6 L1001.3 494.1 L1009.7 488.3 L1018.0 489.1 L1026.4 485.4 L1034.8 478.3 L1043.1 471.4 L1051.5 470.0 L1059.8 471.5 L1068.2 475.3 L1076.6 475.1 L1084.9 474.4 L1093.3 477.8 L1101.7 473.3 L1110.0 471.9 L1118.4 469.8 L1126.7 470.3 L1135.1 470.6 L1143.5 471.7 L1151.8 475.3 L1160.2 480.2 L1168.5 486.4 L1176.9 489.3 L1185.2 490.6 L1193.6 493.4 L1202.0 503.1 L1210.3 513.4 L1218.7 516.8 L1227.0 481.4 L1235.4 465.6 L1243.8 461.8 L1252.1 461.5 L1260.5 462.6 L1268.8 455.8 L1277.2 447.9 L1285.6 442.2 L1293.9 444.9 L1302.3 451.3 L1310.7 459.1 L1319.0 473.7 L1327.4 497.8 L1335.7 526.9 L1344.1 552.6 L1352.5 579.8 L1360.8 611.1 L1369.2 629.7 L1377.5 656.7 L1385.9 680.3 L1394.2 680.7 L1402.6 679.5 L1411.0 680.3 L1419.3 684.9 L1427.7 684.0 L1436.0 676.6 L1444.4 676.9 L1452.8 673.0 L1461.1 672.2 L1469.5 670.7 L1477.8 673.1 L1486.2 669.7 L1494.6 669.7 L1502.9 669.7 L1511.3 672.4 L1519.6 679.2 L1528.0 692.6 L1536.4 707.2 L1544.7 719.6 L1553.1 731.5 L1561.5 732.1 L1569.8 734.0 L1578.2 737.1 L1586.5 747.1 L1594.9 748.7 L1603.2 748.3 L1611.6 753.3 L1620.0 753.1 L1628.3 757.0 L1636.7 759.9 L1645.0 767.5 L1653.4 793.7 L1661.8 806.6 L1670.1 822.4 L1678.5 831.2 L1686.8 836.3 L1695.2 840.9 L1703.6 844.9 L1711.9 846.8 L1720.3 852.4 L1728.6 852.4 L1737.0 853.3 L1745.4 856.5 L1753.7 859.4 L1762.1 858.8 L1770.5 863.7 L1778.8 863.5 L1787.2 869.4 L1795.5 871.7 L1803.9 871.3 L1812.2 880.9 L1820.6 888.6 L1829.0 889.4 L1837.3 898.2 L1845.7 913.3 L1854.0 919.5 L1862.4 921.1 L1870.8 924.1 L1879.1 929.3 L1887.5 937.9 L1895.8 952.2 L1904.2 961.2 L1912.6 970.6 L1920.9 978.8 L1929.3 980.8 L1937.6 976.3 L1946.0 958.4 L1954.4 905.7 L1962.7 874.3 L1971.1 863.0 L1979.5 855.3 L1987.8 850.0 L1996.2 845.3 L2004.5 841.8 L2012.9 839.7 L2021.2 833.1 L2029.6 830.2 L2038.0 830.7 L2046.3 831.3 L2054.7 833.2 L2063.0 837.3 L2071.4 840.7 L2079.8 843.5 L2088.1 846.7 L2096.5 844.6 L2104.8 842.6 L2113.2 841.9 L2121.6 860.0 L2129.9 880.5 L2138.3 888.6 L2146.7 894.5 L2155.0 895.7 L2163.4 894.1 L2171.7 888.7 L2180.1 882.5 L2188.4 891.7 L2196.8 900.4 L2205.2 903.8 L2213.5 887.0 L2221.9 897.9 L2230.2 904.8 L2238.6 915.0 L2247.0 921.6 L2255.3 933.4 L2263.7 945.3 L2272.0 959.8 L2280.4 977.8 L2288.8 991.8 L2297.1 1014.5 L2305.5 1041.9 L2313.8 1074.8 L2322.2 1100.2 L2330.6 1120.7 L2338.9 1133.7 L2347.3 1142.3 L2355.7 1155.9 L2364.0 1166.4 L2372.4 1171.5 L2380.7 1183.3 L2389.1 1185.7 L2397.4 1185.2 L2405.8 1185.8 L2414.2 1186.2 L2422.5 1186.3 L2430.9 1186.2 L2439.2 1185.5 L2447.6 1185.6 L2456.0 1192.7 L2464.3 1197.1 L2472.7 1203.2 L2481.0 1209.9 L2489.4 1211.6 L2497.8 1212.4 L2506.1 1215.0 L2514.5 1214.9" fill="none" stroke="#c6c6c6" stroke-width="1.33"/>
<path d="M173.7 856.0 L182.0 861.4 L190.4 863.8 L198.8 864.6 L207.1 866.5 L215.5 869.9 L223.8 872.2 L232.2 876.1 L240.6 880.5 L248.9 883.6 L257.3 885.3 L265.6 887.7 L274.0 889.3 L282.4 888.7 L290.7 889.9 L299.1 892.4 L307.4 896.2 L315.8 898.1 L324.2 898.3 L332.5 896.4 L340.9 897.5 L349.2 898.3 L357.6 900.0 L366.0 902.5 L374.3 904.0 L382.7 906.1 L391.1 905.2 L399.4 902.8 L407.8 901.1 L416.1 899.9 L424.5 899.2 L432.8 896.8 L441.2 893.8 L449.6 888.7 L457.9 879.6 L466.3 865.3 L474.6 849.8 L483.0 835.3 L491.4 818.9 L499.7 803.1 L508.1 783.2 L516.4 754.5 L524.8 728.2 L533.2 702.1 L541.5 676.0 L549.9 646.5 L558.2 618.4 L566.6 598.5 L575.0 578.7 L583.3 558.9 L591.7 539.8 L600.0 519.0 L608.4 501.6 L616.8 486.1 L625.1 474.3 L633.5 468.1 L641.8 463.3 L650.2 464.7 L658.6 464.9 L666.9 461.7 L675.3 463.3 L683.6 473.8 L692.0 475.8 L700.4 478.8 L708.7 483.6 L717.1 491.4 L725.4 500.4 L733.8 498.6 L742.2 495.9 L750.5 497.2 L758.9 499.1 L767.2 501.9 L775.6 502.7 L784.0 504.1 L792.3 509.2 L800.7 510.7 L809.0 513.0 L817.4 506.5 L825.8 504.3 L834.1 505.3 L842.5 507.5 L850.8 507.1 L859.2 514.6 L867.6 521.4 L875.9 530.1 L884.3 538.0 L892.6 545.5 L901.0 556.4 L909.4 565.2 L917.7 570.2 L926.1 576.3 L934.4 582.6 L942.8 588.5 L951.2 592.5 L959.5 590.2 L967.9 590.3 L976.2 587.5 L984.6 588.2 L993.0 587.0 L1001.3 585.0 L1009.7 581.4 L1018.0 581.7 L1026.4 580.3 L1034.8 577.8 L1043.1 572.3 L1051.5 568.7 L1059.8 564.4 L1068.2 559.9 L1076.6 560.1 L1084.9 560.6 L1093.3 557.8 L1101.7 559.3 L1110.0 559.9 L1118.4 561.4 L1126.7 563.6 L1135.1 565.1 L1143.5 568.0 L1151.8 570.0 L1160.2 571.4 L1168.5 573.0 L1176.9 574.3 L1185.2 574.9 L1193.6 575.9 L1202.0 580.9 L1210.3 585.1 L1218.7 589.1 L1227.0 602.1 L1235.4 614.7 L1243.8 621.6 L1252.1 626.3 L1260.5 635.4 L1268.8 642.5 L1277.2 652.2 L1285.6 663.1 L1293.9 673.9 L1302.3 684.4 L1310.7 692.0 L1319.0 703.2 L1327.4 717.7 L1335.7 731.5 L1344.1 741.3 L1352.5 749.4 L1360.8 756.7 L1369.2 761.3 L1377.5 767.3 L1385.9 772.6 L1394.2 771.1 L1402.6 768.4 L1411.0 768.8 L1419.3 770.5 L1427.7 774.7 L1436.0 779.1 L1444.4 778.8 L1452.8 780.5 L1461.1 781.4 L1469.5 783.7 L1477.8 786.4 L1486.2 784.2 L1494.6 783.6 L1502.9 783.8 L1511.3 787.8 L1519.6 795.3 L1528.0 804.0 L1536.4 813.0 L1544.7 822.4 L1553.1 829.6 L1561.5 836.6 L1569.8 847.5 L1578.2 859.5 L1586.5 871.8 L1594.9 877.4 L1603.2 876.9 L1611.6 879.9 L1620.0 879.7 L1628.3 882.2 L1636.7 884.4 L1645.0 888.0 L1653.4 895.9 L1661.8 903.7 L1670.1 908.7 L1678.5 911.4 L1686.8 914.6 L1695.2 918.9 L1703.6 922.9 L1711.9 925.5 L1720.3 928.6 L1728.6 928.6 L1737.0 927.7 L1745.4 925.9 L1753.7 924.7 L1762.1 925.3 L1770.5 930.6 L1778.8 937.2 L1787.2 943.4 L1795.5 950.6 L1803.9 958.6 L1812.2 964.9 L1820.6 969.6 L1829.0 971.9 L1837.3 977.3 L1845.7 984.2 L1854.0 989.2 L1862.4 993.5 L1870.8 997.6 L1879.1 1001.2 L1887.5 1005.6 L1895.8 1011.1 L1904.2 1014.6 L1912.6 1018.7 L1920.9 1021.5 L1929.3 1021.8 L1937.6 1021.0 L1946.0 1016.8 L1954.4 1007.9 L1962.7 998.4 L1971.1 990.8 L1979.5 986.2 L1987.8 982.7 L1996.2 979.1 L2004.5 975.4 L2012.9 971.5 L2021.2 965.0 L2029.6 958.4 L2038.0 953.4 L2046.3 949.2 L2054.7 945.0 L2063.0 942.0 L2071.4 939.7 L2079.8 938.7 L2088.1 937.2 L2096.5 939.0 L2104.8 941.1 L2113.2 944.9 L2121.6 955.9 L2129.9 964.4 L2138.3 969.8 L2146.7 974.3 L2155.0 980.5 L2163.4 988.1 L2171.7 997.2 L2180.1 1007.2 L2188.4 1018.9 L2196.8 1030.9 L2205.2 1043.0 L2213.5 1061.3 L2221.9 1074.0 L2230.2 1086.1 L2238.6 1098.0 L2247.0 1107.7 L2255.3 1119.4 L2263.7 1131.3 L2272.0 1143.2 L2280.4 1154.1 L2288.8 1161.1 L2297.1 1170.2 L2305.5 1179.4 L2313.8 1188.8 L2322.2 1197.1 L2330.6 1204.1 L2338.9 1208.8 L2347.3 1212.2 L2355.7 1217.1 L2364.0 1222.0 L2372.4 1225.4 L2380.7 1220.8 L2389.1 1222.2 L2397.4 1223.6 L2405.8 1224.8 L2414.2 1226.6 L2422.5 1226.8 L2430.9 1227.0 L2439.2 1225.6 L2447.6 1225.7 L2456.0 1228.8 L2464.3 1231.3 L2472.7 1234.5 L2481.0 1236.9 L2489.4 1237.6 L2497.8 1238.0 L2506.1 1239.0 L2514.5 1239.0" fill="none" stroke="#909090" stroke-width="1.33" stroke-dasharray="4 4"/>
<path d="M14.8 790.5 L23.2 790.7 L31.6 791.0 L39.9 791.1 L48.3 791.1 L56.6 791.6 L65.0 792.0 L73.4 792.4 L81.7 792.9 L90.1 793.3 L98.5 793.9 L106.8 794.7 L115.2 795.9 L123.5 796.9 L131.9 797.9 L140.2 798.8 L148.6 799.5 L157.0 800.4 L165.3 801.7 L173.7 802.7 L182.0 803.7 L190.4 804.2 L198.8 804.6 L207.1 804.9 L215.5 805.5 L223.8 806.3 L232.2 807.4 L240.6 808.4 L248.9 809.4 L257.3 810.0 L265.6 810.9 L274.0 811.8 L282.4 812.7 L290.7 813.8 L299.1 815.1 L307.4 816.7 L315.8 817.5 L324.2 818.3 L332.5 819.0 L340.9 820.1 L349.2 821.1 L357.6 821.8 L366.0 822.4 L374.3 822.9 L382.7 823.7 L391.1 824.2 L399.4 824.6 L407.8 825.1 L416.1 825.7 L424.5 826.0 L432.8 826.3 L441.2 826.4 L449.6 826.2 L457.9 825.3 L466.3 823.7 L474.6 822.0 L483.0 820.0 L491.4 817.4 L499.7 815.1 L508.1 812.2 L516.4 807.5 L524.8 803.1 L533.2 798.8 L541.5 794.3 L549.9 789.5 L558.2 784.7 L566.6 781.6 L575.0 778.6 L583.3 775.6 L591.7 772.7 L600.0 769.4 L608.4 766.6 L616.8 763.9 L625.1 761.3 L633.5 759.0 L641.8 757.1 L650.2 755.9 L658.6 754.1 L666.9 751.7 L675.3 749.8 L683.6 747.8 L692.0 744.4 L700.4 741.2 L708.7 738.3 L717.1 735.6 L725.4 733.2 L733.8 730.2 L742.2 727.1 L750.5 725.0 L758.9 722.9 L767.2 720.7 L775.6 718.5 L784.0 716.6 L792.3 715.4 L800.7 714.0 L809.0 712.9 L817.4 710.9 L825.8 709.1 L834.1 707.3 L842.5 706.3 L850.8 704.7 L859.2 703.2 L867.6 701.8 L875.9 701.0 L884.3 700.2 L892.6 699.6 L901.0 699.1 L909.4 698.2 L917.7 697.3 L926.1 696.7 L934.4 696.0 L942.8 695.3 L951.2 694.3 L959.5 693.0 L967.9 691.7 L976.2 690.3 L984.6 688.7 L993.0 686.8 L1001.3 684.9 L1009.7 683.4 L1018.0 682.1 L1026.4 680.5 L1034.8 678.8 L1043.1 677.2 L1051.5 675.9 L1059.8 674.7 L1068.2 673.6 L1076.6 672.9 L1084.9 672.4 L1093.3 671.5 L1101.7 671.3 L1110.0 671.0 L1118.4 670.6 L1126.7 669.9 L1135.1 669.2 L1143.5 668.6 L1151.8 667.6 L1160.2 666.2 L1168.5 664.8 L1176.9 663.8 L1185.2 662.7 L1193.6 661.6 L1202.0 661.1 L1210.3 660.4 L1218.7 660.1 L1227.0 661.7 L1235.4 663.2 L1243.8 664.0 L1252.1 664.5 L1260.5 665.4 L1268.8 666.7 L1277.2 668.4 L1285.6 670.2 L1293.9 671.7 L1302.3 673.0 L1310.7 673.9 L1319.0 675.1 L1327.4 676.5 L1335.7 677.8 L1344.1 678.5 L1352.5 678.9 L1360.8 679.1 L1369.2 679.3 L1377.5 679.7 L1385.9 680.3 L1394.2 681.3 L1402.6 682.1 L1411.0 682.8 L1419.3 683.5 L1427.7 685.0 L1436.0 687.0 L1444.4 688.4 L1452.8 690.3 L1461.1 691.8 L1469.5 693.4 L1477.8 694.6 L1486.2 695.2 L1494.6 696.3 L1502.9 697.4 L1511.3 698.7 L1519.6 700.4 L1528.0 702.1 L1536.4 703.9 L1544.7 705.9 L1553.1 707.6 L1561.5 709.8 L1569.8 712.5 L1578.2 715.3 L1586.5 718.0 L1594.9 720.4 L1603.2 721.9 L1611.6 723.6 L1620.0 725.1 L1628.3 726.7 L1636.7 728.4 L1645.0 730.0 L1653.4 731.8 L1661.8 734.0 L1670.1 735.8 L1678.5 737.3 L1686.8 739.3 L1695.2 741.4 L1703.6 743.6 L1711.9 745.7 L1720.3 747.7 L1728.6 749.5 L1737.0 751.5 L1745.4 753.6 L1753.7 755.7 L1762.1 757.8 L1770.5 760.1 L1778.8 762.6 L1787.2 765.0 L1795.5 767.7 L1803.9 770.5 L1812.2 773.0 L1820.6 775.2 L1829.0 777.5 L1837.3 779.9 L1845.7 782.4 L1854.0 784.9 L1862.4 787.5 L1870.8 790.0 L1879.1 792.3 L1887.5 794.7 L1895.8 797.1 L1904.2 799.4 L1912.6 801.8 L1920.9 804.1 L1929.3 805.7 L1937.6 807.3 L1946.0 808.6 L1954.4 808.7 L1962.7 809.1 L1971.1 810.0 L1979.5 811.1 L1987.8 812.3 L1996.2 813.5 L2004.5 814.8 L2012.9 816.2 L2021.2 817.0 L2029.6 818.0 L2038.0 819.2 L2046.3 820.4 L2054.7 821.7 L2063.0 823.3 L2071.4 824.8 L2079.8 826.8 L2088.1 828.4 L2096.5 830.2 L2104.8 832.0 L2113.2 833.8 L2121.6 835.9 L2129.9 837.6 L2138.3 839.3 L2146.7 841.1 L2155.0 843.2 L2163.4 845.6 L2171.7 848.4 L2180.1 851.4 L2188.4 854.2 L2196.8 857.2 L2205.2 860.4 L2213.5 864.9 L2221.9 868.3 L2230.2 871.8 L2238.6 875.2 L2247.0 878.6 L2255.3 882.1 L2263.7 885.7 L2272.0 889.3 L2280.4 892.6 L2288.8 895.5 L2297.1 898.5 L2305.5 901.5 L2313.8 904.4 L2322.2 907.6 L2330.6 910.8 L2338.9 913.8 L2347.3 916.9 L2355.7 920.0 L2364.0 923.3 L2372.4 926.6 L2380.7 929.5 L2389.1 932.5 L2397.4 935.6 L2405.8 938.6 L2414.2 941.8 L2422.5 944.7 L2430.9 947.7 L2439.2 950.4 L2447.6 953.1 L2456.0 956.1 L2464.3 959.0 L2472.7 961.9 L2481.0 964.8 L2489.4 967.5 L2497.8 970.2 L2506.1 972.8 L2514.5 975.2" fill="none" stroke="#111" stroke-width="2" stroke-dasharray="8 5.33" stroke-linejoin="round"/>
<path d="M14.8 790.5 L23.2 790.9 L31.6 791.5 L39.9 791.7 L48.3 791.7 L56.6 792.8 L65.0 793.5 L73.4 794.2 L81.7 795.1 L90.1 796.0 L98.5 797.2 L106.8 798.6 L115.2 800.9 L123.5 802.8 L131.9 804.7 L140.2 806.4 L148.6 807.6 L157.0 809.2 L165.3 811.7 L173.7 813.5 L182.0 815.2 L190.4 816.0 L198.8 816.4 L207.1 817.0 L215.5 817.8 L223.8 819.2 L232.2 821.1 L240.6 822.9 L248.9 824.5 L257.3 825.4 L265.6 827.0 L274.0 828.5 L282.4 829.9 L290.7 831.8 L299.1 834.0 L307.4 836.7 L315.8 838.0 L324.2 839.1 L332.5 840.2 L340.9 841.9 L349.2 843.4 L357.6 844.4 L366.0 845.2 L374.3 845.7 L382.7 846.8 L391.1 847.3 L399.4 847.6 L407.8 848.3 L416.1 848.9 L424.5 849.1 L432.8 849.2 L441.2 849.1 L449.6 848.1 L457.9 846.0 L466.3 842.3 L474.6 838.6 L483.0 834.2 L491.4 828.8 L499.7 823.9 L508.1 818.1 L516.4 808.6 L524.8 799.9 L533.2 791.2 L541.5 782.5 L549.9 773.2 L558.2 764.0 L566.6 758.1 L575.0 752.7 L583.3 747.3 L591.7 741.9 L600.0 736.0 L608.4 731.2 L616.8 726.4 L625.1 722.0 L633.5 718.3 L641.8 715.2 L650.2 713.8 L658.6 710.9 L666.9 707.0 L675.3 704.2 L683.6 701.1 L692.0 695.3 L700.4 689.9 L708.7 685.1 L717.1 680.8 L725.4 677.0 L733.8 672.1 L742.2 667.3 L750.5 664.2 L758.9 661.2 L767.2 658.0 L775.6 655.0 L784.0 652.3 L792.3 651.4 L800.7 649.7 L809.0 648.9 L817.4 646.2 L825.8 643.8 L834.1 641.6 L842.5 640.9 L850.8 638.9 L859.2 637.3 L867.6 635.8 L875.9 635.5 L884.3 635.3 L892.6 635.4 L901.0 635.6 L909.4 635.0 L917.7 634.6 L926.1 634.5 L934.4 634.3 L942.8 634.2 L951.2 633.5 L959.5 632.0 L967.9 630.7 L976.2 629.2 L984.6 627.2 L993.0 624.7 L1001.3 622.1 L1009.7 620.3 L1018.0 618.9 L1026.4 617.1 L1034.8 615.0 L1043.1 613.0 L1051.5 611.7 L1059.8 610.6 L1068.2 609.6 L1076.6 609.6 L1084.9 609.8 L1093.3 609.1 L1101.7 610.0 L1110.0 610.6 L1118.4 611.0 L1126.7 610.8 L1135.1 610.5 L1143.5 610.6 L1151.8 609.7 L1160.2 608.1 L1168.5 606.5 L1176.9 605.6 L1185.2 604.6 L1193.6 603.6 L1202.0 603.7 L1210.3 603.5 L1218.7 604.1 L1227.0 608.2 L1235.4 612.2 L1243.8 614.9 L1252.1 616.9 L1260.5 619.7 L1268.8 623.2 L1277.2 627.4 L1285.6 631.7 L1293.9 635.4 L1302.3 638.8 L1310.7 641.3 L1319.0 644.3 L1327.4 647.7 L1335.7 650.8 L1344.1 652.9 L1352.5 654.2 L1360.8 655.0 L1369.2 656.0 L1377.5 657.1 L1385.9 658.7 L1394.2 661.2 L1402.6 663.1 L1411.0 664.9 L1419.3 666.6 L1427.7 670.0 L1436.0 674.3 L1444.4 677.3 L1452.8 681.4 L1461.1 684.5 L1469.5 687.8 L1477.8 690.4 L1486.2 691.5 L1494.6 693.8 L1502.9 696.0 L1511.3 698.8 L1519.6 702.2 L1528.0 705.5 L1536.4 709.0 L1544.7 712.9 L1553.1 716.2 L1561.5 720.3 L1569.8 725.4 L1578.2 730.7 L1586.5 735.9 L1594.9 740.2 L1603.2 742.9 L1611.6 745.8 L1620.0 748.4 L1628.3 751.1 L1636.7 754.0 L1645.0 756.7 L1653.4 759.7 L1661.8 763.6 L1670.1 766.5 L1678.5 768.9 L1686.8 772.2 L1695.2 775.9 L1703.6 779.5 L1711.9 783.0 L1720.3 786.2 L1728.6 789.0 L1737.0 792.3 L1745.4 795.6 L1753.7 799.0 L1762.1 802.3 L1770.5 805.9 L1778.8 810.1 L1787.2 813.9 L1795.5 818.2 L1803.9 822.9 L1812.2 826.7 L1820.6 830.2 L1829.0 833.7 L1837.3 837.3 L1845.7 841.0 L1854.0 844.8 L1862.4 848.8 L1870.8 852.6 L1879.1 856.1 L1887.5 859.5 L1895.8 863.1 L1904.2 866.3 L1912.6 869.8 L1920.9 872.9 L1929.3 874.8 L1937.6 876.6 L1946.0 877.7 L1954.4 876.7 L1962.7 876.0 L1971.1 876.6 L1979.5 877.4 L1987.8 878.5 L1996.2 879.6 L2004.5 880.9 L2012.9 882.2 L2021.2 882.6 L2029.6 883.3 L2038.0 884.4 L2046.3 885.6 L2054.7 886.8 L2063.0 888.6 L2071.4 890.4 L2079.8 893.0 L2088.1 895.0 L2096.5 897.2 L2104.8 899.4 L2113.2 901.6 L2121.6 904.4 L2129.9 906.6 L2138.3 908.7 L2146.7 910.7 L2155.0 913.6 L2163.4 917.0 L2171.7 921.1 L2180.1 925.6 L2188.4 929.8 L2196.8 934.2 L2205.2 939.2 L2213.5 946.5 L2221.9 951.5 L2230.2 956.9 L2238.6 962.0 L2247.0 967.0 L2255.3 972.3 L2263.7 977.6 L2272.0 983.0 L2280.4 987.8 L2288.8 991.7 L2297.1 995.8 L2305.5 999.7 L2313.8 1003.6 L2322.2 1007.9 L2330.6 1012.3 L2338.9 1016.4 L2347.3 1020.4 L2355.7 1024.6 L2364.0 1029.1 L2372.4 1033.5 L2380.7 1037.1 L2389.1 1040.9 L2397.4 1045.0 L2405.8 1048.9 L2414.2 1052.9 L2422.5 1056.5 L2430.9 1060.3 L2439.2 1063.4 L2447.6 1066.7 L2456.0 1070.3 L2464.3 1073.8 L2472.7 1077.4 L2481.0 1080.8 L2489.4 1083.9 L2497.8 1086.9 L2506.1 1089.9 L2514.5 1092.4" fill="none" stroke="#8b4513" stroke-width="2" stroke-linejoin="round"/>
<path d="M14.8 790.5 L23.2 791.3 L31.6 792.4 L39.9 792.9 L48.3 792.7 L56.6 794.9 L65.0 796.3 L73.4 797.5 L81.7 799.2 L90.1 800.7 L98.5 802.9 L106.8 805.5 L115.2 809.8 L123.5 813.3 L131.9 816.6 L140.2 819.4 L148.6 821.4 L157.0 824.0 L165.3 828.3 L173.7 831.3 L182.0 833.9 L190.4 834.9 L198.8 834.9 L207.1 835.2 L215.5 836.1 L223.8 838.3 L232.2 841.2 L240.6 844.0 L248.9 846.3 L257.3 847.3 L265.6 849.6 L274.0 851.6 L282.4 853.6 L290.7 856.3 L299.1 859.8 L307.4 864.0 L315.8 865.7 L324.2 866.7 L332.5 867.8 L340.9 870.2 L349.2 871.9 L357.6 872.7 L366.0 873.2 L374.3 873.2 L382.7 874.3 L391.1 874.2 L399.4 873.8 L407.8 874.0 L416.1 874.2 L424.5 873.6 L432.8 873.0 L441.2 871.7 L449.6 868.9 L457.9 863.8 L466.3 855.9 L474.6 848.1 L483.0 839.0 L491.4 828.2 L499.7 818.4 L508.1 807.1 L516.4 788.8 L524.8 772.3 L533.2 756.2 L541.5 740.4 L549.9 723.5 L558.2 707.3 L566.6 697.8 L575.0 689.4 L583.3 681.3 L591.7 673.2 L600.0 664.2 L608.4 657.5 L616.8 650.9 L625.1 645.2 L633.5 640.9 L641.8 637.8 L650.2 638.0 L658.6 635.2 L666.9 630.5 L675.3 627.8 L683.6 624.7 L692.0 616.3 L700.4 608.7 L708.7 602.4 L717.1 597.0 L725.4 592.8 L733.8 586.5 L742.2 580.3 L750.5 577.6 L758.9 575.0 L767.2 572.0 L775.6 569.5 L784.0 567.5 L792.3 569.0 L800.7 568.9 L809.0 570.4 L817.4 568.2 L825.8 566.5 L834.1 565.2 L842.5 566.8 L850.8 565.8 L859.2 565.5 L867.6 565.3 L875.9 567.5 L884.3 569.6 L892.6 572.5 L901.0 575.4 L909.4 576.6 L917.7 578.0 L926.1 580.1 L934.4 581.9 L942.8 583.7 L951.2 584.2 L959.5 583.2 L967.9 582.6 L976.2 581.4 L984.6 579.4 L993.0 576.3 L1001.3 573.1 L1009.7 571.5 L1018.0 570.5 L1026.4 568.9 L1034.8 566.6 L1043.1 564.5 L1051.5 563.9 L1059.8 563.6 L1068.2 563.4 L1076.6 565.2 L1084.9 567.3 L1093.3 567.7 L1101.7 571.2 L1110.0 573.8 L1118.4 576.0 L1126.7 577.0 L1135.1 577.8 L1143.5 579.1 L1151.8 578.7 L1160.2 576.7 L1168.5 574.8 L1176.9 574.1 L1185.2 573.5 L1193.6 572.6 L1202.0 574.0 L1210.3 575.0 L1218.7 577.1 L1227.0 586.5 L1235.4 595.2 L1243.8 601.2 L1252.1 605.6 L1260.5 611.6 L1268.8 618.9 L1277.2 627.3 L1285.6 636.0 L1293.9 643.2 L1302.3 649.6 L1310.7 654.0 L1319.0 659.4 L1327.4 665.6 L1335.7 671.0 L1344.1 674.3 L1352.5 676.1 L1360.8 676.9 L1369.2 677.9 L1377.5 679.4 L1385.9 681.7 L1394.2 685.7 L1402.6 688.5 L1411.0 691.1 L1419.3 693.4 L1427.7 699.1 L1436.0 706.5 L1444.4 711.2 L1452.8 717.9 L1461.1 722.6 L1469.5 727.7 L1477.8 731.2 L1486.2 731.8 L1494.6 734.7 L1502.9 737.6 L1511.3 741.4 L1519.6 746.4 L1528.0 751.4 L1536.4 756.5 L1544.7 762.2 L1553.1 766.9 L1561.5 773.1 L1569.8 781.0 L1578.2 789.4 L1586.5 797.4 L1594.9 803.5 L1603.2 806.4 L1611.6 809.5 L1620.0 812.2 L1628.3 815.2 L1636.7 818.4 L1645.0 821.1 L1653.4 824.5 L1661.8 829.8 L1670.1 832.9 L1678.5 835.1 L1686.8 838.9 L1695.2 843.6 L1703.6 848.2 L1711.9 852.4 L1720.3 855.9 L1728.6 858.8 L1737.0 862.6 L1745.4 866.4 L1753.7 870.4 L1762.1 874.1 L1770.5 878.4 L1778.8 883.8 L1787.2 888.5 L1795.5 894.2 L1803.9 900.5 L1812.2 904.9 L1820.6 908.7 L1829.0 912.6 L1837.3 916.6 L1845.7 921.0 L1854.0 925.3 L1862.4 930.0 L1870.8 934.4 L1879.1 938.1 L1887.5 941.7 L1895.8 945.5 L1904.2 948.6 L1912.6 952.3 L1920.9 955.1 L1929.3 955.8 L1937.6 956.2 L1946.0 955.3 L1954.4 950.2 L1962.7 946.0 L1971.1 944.3 L1979.5 943.4 L1987.8 942.9 L1996.2 942.6 L2004.5 942.6 L2012.9 942.9 L2021.2 941.3 L2029.6 940.2 L2038.0 940.2 L2046.3 940.4 L2054.7 940.6 L2063.0 942.1 L2071.4 943.6 L2079.8 946.6 L2088.1 948.5 L2096.5 950.8 L2104.8 953.1 L2113.2 955.3 L2121.6 958.8 L2129.9 961.0 L2138.3 962.9 L2146.7 964.8 L2155.0 968.4 L2163.4 973.0 L2171.7 979.0 L2180.1 985.6 L2188.4 991.5 L2196.8 997.9 L2205.2 1005.2 L2213.5 1017.1 L2221.9 1024.3 L2230.2 1032.0 L2238.6 1039.3 L2247.0 1046.2 L2255.3 1053.4 L2263.7 1060.9 L2272.0 1068.1 L2280.4 1074.4 L2288.8 1078.7 L2297.1 1083.4 L2305.5 1087.7 L2313.8 1092.1 L2322.2 1097.1 L2330.6 1102.3 L2338.9 1106.8 L2347.3 1111.1 L2355.7 1115.9 L2364.0 1121.3 L2372.4 1126.4 L2380.7 1129.9 L2389.1 1133.8 L2397.4 1138.4 L2405.8 1142.4 L2414.2 1146.6 L2422.5 1150.1 L2430.9 1153.9 L2439.2 1156.4 L2447.6 1159.3 L2456.0 1162.7 L2464.3 1166.1 L2472.7 1169.6 L2481.0 1172.6 L2489.4 1175.1 L2497.8 1177.6 L2506.1 1179.9 L2514.5 1181.3" fill="none" stroke="#8b5cf6" stroke-width="2.67" stroke-linejoin="round"/>
<path d="M14.8 790.5 L23.2 792.4 L31.6 795.1 L39.9 796.0 L48.3 795.3 L56.6 800.2 L65.0 803.3 L73.4 805.5 L81.7 808.9 L90.1 811.7 L98.5 815.9 L106.8 821.0 L115.2 829.8 L123.5 836.4 L131.9 842.2 L140.2 846.7 L148.6 848.8 L157.0 852.5 L165.3 860.2 L173.7 864.5 L182.0 867.7 L190.4 866.9 L198.8 864.0 L207.1 861.9 L215.5 861.5 L223.8 864.4 L232.2 868.9 L240.6 873.2 L248.9 876.0 L257.3 875.6 L265.6 878.4 L274.0 880.5 L282.4 882.7 L290.7 886.5 L299.1 892.2 L307.4 899.2 L315.8 899.9 L324.2 899.2 L332.5 898.7 L340.9 901.5 L349.2 902.6 L357.6 901.8 L366.0 900.3 L374.3 897.7 L382.7 897.9 L391.1 895.6 L399.4 892.5 L407.8 891.3 L416.1 890.1 L424.5 887.0 L432.8 884.2 L441.2 880.1 L449.6 872.6 L457.9 859.9 L466.3 840.9 L474.6 823.4 L483.0 803.6 L491.4 780.7 L499.7 761.6 L508.1 739.5 L516.4 701.4 L524.8 669.6 L533.2 640.5 L541.5 613.0 L549.9 584.1 L558.2 558.0 L566.6 549.3 L575.0 543.0 L583.3 537.4 L591.7 531.3 L600.0 523.0 L608.4 520.1 L616.8 517.2 L625.1 516.0 L633.5 517.8 L641.8 522.0 L650.2 533.6 L658.6 536.9 L666.9 534.8 L675.3 537.3 L683.6 538.5 L692.0 526.1 L700.4 516.3 L708.7 509.8 L717.1 505.6 L725.4 504.1 L733.8 497.1 L742.2 490.6 L750.5 492.5 L758.9 494.3 L767.2 494.9 L775.6 496.1 L784.0 498.2 L792.3 508.4 L800.7 514.0 L809.0 522.9 L817.4 522.0 L825.8 522.3 L834.1 523.4 L842.5 531.2 L850.8 532.1 L859.2 534.6 L867.6 537.0 L875.9 545.1 L884.3 552.5 L892.6 561.0 L901.0 569.3 L909.4 572.6 L917.7 576.4 L926.1 581.8 L934.4 585.9 L942.8 589.8 L951.2 590.6 L959.5 587.5 L967.9 585.7 L976.2 582.5 L984.6 577.4 L993.0 570.0 L1001.3 562.8 L1009.7 560.0 L1018.0 558.7 L1026.4 556.0 L1034.8 551.5 L1043.1 548.0 L1051.5 548.1 L1059.8 548.9 L1068.2 549.7 L1076.6 555.4 L1084.9 561.6 L1093.3 563.1 L1101.7 571.8 L1110.0 578.2 L1118.4 583.1 L1126.7 584.9 L1135.1 586.1 L1143.5 588.5 L1151.8 586.5 L1160.2 580.9 L1168.5 575.9 L1176.9 574.2 L1185.2 572.7 L1193.6 570.6 L1202.0 574.3 L1210.3 576.4 L1218.7 581.6 L1227.0 603.8 L1235.4 623.5 L1243.8 635.3 L1252.1 642.8 L1260.5 653.8 L1268.8 667.5 L1277.2 683.3 L1285.6 698.9 L1293.9 710.4 L1302.3 719.5 L1310.7 723.6 L1319.0 730.2 L1327.4 738.5 L1335.7 744.8 L1344.1 745.8 L1352.5 743.2 L1360.8 738.8 L1369.2 735.3 L1377.5 733.4 L1385.9 733.8 L1394.2 738.7 L1402.6 740.3 L1411.0 741.8 L1419.3 742.4 L1427.7 751.8 L1436.0 764.6 L1444.4 770.5 L1452.8 781.2 L1461.1 786.6 L1469.5 792.8 L1477.8 795.1 L1486.2 790.6 L1494.6 792.1 L1502.9 793.5 L1511.3 797.5 L1519.6 804.3 L1528.0 810.8 L1536.4 817.5 L1544.7 825.7 L1553.1 830.9 L1561.5 840.1 L1569.8 852.8 L1578.2 866.3 L1586.5 878.5 L1594.9 885.6 L1603.2 884.7 L1611.6 884.9 L1620.0 884.3 L1628.3 884.6 L1636.7 885.8 L1645.0 886.0 L1653.4 888.0 L1661.8 894.9 L1670.1 896.2 L1678.5 895.5 L1686.8 899.0 L1695.2 904.8 L1703.6 910.0 L1711.9 914.3 L1720.3 917.0 L1728.6 918.1 L1737.0 921.7 L1745.4 925.2 L1753.7 929.5 L1762.1 932.8 L1770.5 937.6 L1778.8 945.2 L1787.2 950.8 L1795.5 958.5 L1803.9 967.8 L1812.2 972.1 L1820.6 975.0 L1829.0 978.0 L1837.3 981.5 L1845.7 985.9 L1854.0 990.4 L1862.4 995.6 L1870.8 999.9 L1879.1 1002.6 L1887.5 1005.3 L1895.8 1008.4 L1904.2 1010.1 L1912.6 1013.1 L1920.9 1014.3 L1929.3 1010.1 L1937.6 1005.9 L1946.0 999.1 L1954.4 982.5 L1962.7 969.2 L1971.1 962.9 L1979.5 958.9 L1987.8 956.4 L1996.2 954.3 L2004.5 953.1 L2012.9 952.8 L2021.2 948.1 L2029.6 944.8 L2038.0 944.3 L2046.3 944.4 L2054.7 944.6 L2063.0 947.7 L2071.4 950.8 L2079.8 957.5 L2088.1 961.2 L2096.5 965.5 L2104.8 969.5 L2113.2 973.4 L2121.6 980.2 L2129.9 983.4 L2138.3 986.0 L2146.7 988.4 L2155.0 994.8 L2163.4 1003.6 L2171.7 1015.1 L2180.1 1027.8 L2188.4 1038.2 L2196.8 1049.2 L2205.2 1061.9 L2213.5 1085.5 L2221.9 1096.5 L2230.2 1108.4 L2238.6 1118.8 L2247.0 1127.9 L2255.3 1137.7 L2263.7 1147.8 L2272.0 1157.2 L2280.4 1163.9 L2288.8 1165.8 L2297.1 1168.8 L2305.5 1171.2 L2313.8 1173.8 L2322.2 1178.4 L2330.6 1183.1 L2338.9 1186.4 L2347.3 1189.4 L2355.7 1193.6 L2364.0 1199.1 L2372.4 1204.2 L2380.7 1205.3 L2389.1 1207.6 L2397.4 1211.6 L2405.8 1214.4 L2414.2 1217.9 L2422.5 1219.5 L2430.9 1222.2 L2439.2 1221.8 L2447.6 1222.5 L2456.0 1224.7 L2464.3 1227.0 L2472.7 1229.8 L2481.0 1231.4 L2489.4 1231.9 L2497.8 1232.4 L2506.1 1232.8 L2514.5 1231.3" fill="none" stroke="#007bff" stroke-width="2.67" stroke-linejoin="round"/>
<g stroke="#5a5a5a" stroke-width="1.33">
<path d="M14.85 781.1 V831.6"/>
<rect x="11.84" y="790.5" width="6.02" height="32.0" fill="#50a073"/>
<path d="M23.21 785.0 V852.5"/>
<rect x="20.20" y="790.8" width="6.02" height="19.7" fill="#d75541"/>
<path d="M31.57 799.1 V838.9"/>
<rect x="28.56" y="810.8" width="6.02" height="10.2" fill="#d75541"/>
<path d="M39.93 791.2 V831.9"/>
<rect x="36.92" y="804.5" width="6.02" height="16.4" fill="#50a073"/>
<path d="M48.29 779.1 V806.9"/>
<rect x="45.28" y="789.2" width="6.02" height="15.3" fill="#50a073"/>
<path d="M56.65 768.6 V852.2"/>
<rect x="53.64" y="789.2" width="6.02" height="57.2" fill="#d75541"/>
<path d="M65.01 819.8 V851.1"/>
<rect x="62.00" y="832.2" width="6.02" height="14.2" fill="#50a073"/>
<path d="M73.37 826.4 V859.5"/>
<rect x="70.36" y="827.2" width="6.02" height="5.0" fill="#50a073"/>
<path d="M81.73 820.2 V846.7"/>
<rect x="78.72" y="827.5" width="6.02" height="13.3" fill="#d75541"/>
<path d="M90.09 822.2 V859.2"/>
<rect x="87.08" y="838.1" width="6.02" height="2.7" fill="#50a073"/>
<path d="M98.45 835.5 V876.4"/>
<rect x="95.44" y="838.1" width="6.02" height="18.0" fill="#d75541"/>
<path d="M106.81 840.5 V871.4"/>
<rect x="103.80" y="856.4" width="6.02" height="13.0" fill="#d75541"/>
<path d="M115.17 866.2 V917.8"/>
<rect x="112.16" y="869.4" width="6.02" height="44.5" fill="#d75541"/>
<path d="M123.53 885.5 V939.7"/>
<rect x="120.52" y="899.1" width="6.02" height="14.8" fill="#50a073"/>
<path d="M131.89 893.6 V920.6"/>
<rect x="128.88" y="897.2" width="6.02" height="2.2" fill="#50a073"/>
<path d="M140.25 886.6 V915.5"/>
<rect x="137.24" y="889.4" width="6.02" height="7.8" fill="#50a073"/>
<path d="M148.61 853.3 V894.7"/>
<rect x="145.60" y="868.9" width="6.02" height="20.5" fill="#50a073"/>
<path d="M156.97 860.3 V889.2"/>
<rect x="153.96" y="868.9" width="6.02" height="18.8" fill="#d75541"/>
<path d="M165.33 877.2 V948.3"/>
<rect x="162.32" y="887.7" width="6.02" height="45.8" fill="#d75541"/>
<path d="M173.69 892.8 V938.9"/>
<rect x="170.68" y="905.3" width="6.02" height="28.1" fill="#50a073"/>
<path d="M182.05 892.3 V910.3"/>
<rect x="179.04" y="897.8" width="6.02" height="7.5" fill="#50a073"/>
<path d="M190.41 846.2 V902.5"/>
<rect x="187.40" y="859.2" width="6.02" height="38.8" fill="#50a073"/>
<path d="M198.77 832.7 V878.4"/>
<rect x="195.76" y="836.1" width="6.02" height="23.1" fill="#50a073"/>
<path d="M207.13 833.8 V860.0"/>
<rect x="204.12" y="836.1" width="6.02" height="5.9" fill="#d75541"/>
<path d="M215.49 829.2 V865.0"/>
<rect x="212.48" y="842.0" width="6.02" height="15.9" fill="#d75541"/>
<path d="M223.85 856.9 V900.2"/>
<rect x="220.84" y="858.0" width="6.02" height="34.5" fill="#d75541"/>
<path d="M232.21 892.0 V937.8"/>
<rect x="229.20" y="892.5" width="6.02" height="18.3" fill="#d75541"/>
<path d="M240.57 897.2 V926.9"/>
<rect x="237.56" y="910.8" width="6.02" height="3.1" fill="#d75541"/>
<path d="M248.93 899.1 V914.7"/>
<rect x="245.92" y="903.0" width="6.02" height="11.2" fill="#50a073"/>
<path d="M257.29 829.8 V908.4"/>
<rect x="254.28" y="871.7" width="6.02" height="30.9" fill="#50a073"/>
<path d="M265.65 863.9 V912.7"/>
<rect x="262.64" y="871.7" width="6.02" height="33.6" fill="#d75541"/>
<path d="M274.01 896.7 V922.8"/>
<rect x="271.00" y="900.6" width="6.02" height="4.7" fill="#50a073"/>
<path d="M282.37 894.8 V911.6"/>
<rect x="279.36" y="900.9" width="6.02" height="2.0" fill="#d75541"/>
<path d="M290.73 897.5 V936.6"/>
<rect x="287.72" y="903.3" width="6.02" height="19.2" fill="#d75541"/>
<path d="M299.09 911.9 V973.8"/>
<rect x="296.08" y="922.5" width="6.02" height="24.1" fill="#d75541"/>
<path d="M307.45 935.6 V1012.9"/>
<rect x="304.44" y="946.6" width="6.02" height="19.6" fill="#d75541"/>
<path d="M315.81 901.2 V990.0"/>
<rect x="312.80" y="905.6" width="6.02" height="60.6" fill="#50a073"/>
<path d="M324.17 881.2 V916.9"/>
<rect x="321.16" y="892.5" width="6.02" height="13.1" fill="#50a073"/>
<path d="M332.53 875.9 V900.9"/>
<rect x="329.52" y="892.5" width="6.02" height="1.9" fill="#d75541"/>
<path d="M340.89 883.1 V932.5"/>
<rect x="337.88" y="894.4" width="6.02" height="34.0" fill="#d75541"/>
<path d="M349.25 907.5 V944.8"/>
<rect x="346.24" y="913.1" width="6.02" height="15.2" fill="#50a073"/>
<path d="M357.61 885.2 V916.5"/>
<rect x="354.60" y="894.4" width="6.02" height="18.5" fill="#50a073"/>
<path d="M365.97 880.0 V898.8"/>
<rect x="362.96" y="885.6" width="6.02" height="8.8" fill="#50a073"/>
<path d="M374.33 834.8 V903.8"/>
<rect x="371.32" y="872.5" width="6.02" height="12.8" fill="#50a073"/>
<path d="M382.69 865.6 V910.6"/>
<rect x="379.68" y="872.8" width="6.02" height="27.2" fill="#d75541"/>
<path d="M391.05 849.4 V905.6"/>
<rect x="388.04" y="873.5" width="6.02" height="26.5" fill="#50a073"/>
<path d="M399.41 839.7 V877.5"/>
<rect x="396.40" y="863.5" width="6.02" height="10.2" fill="#50a073"/>
<path d="M407.77 859.4 V890.0"/>
<rect x="404.76" y="863.8" width="6.02" height="15.6" fill="#d75541"/>
<path d="M416.13 874.4 V887.5"/>
<rect x="413.12" y="879.4" width="6.02" height="0.9" fill="#d75541"/>
<path d="M424.49 850.6 V884.4"/>
<rect x="421.48" y="857.8" width="6.02" height="22.5" fill="#50a073"/>
<path d="M432.85 822.8 V864.1"/>
<rect x="429.84" y="857.5" width="6.02" height="0.8" fill="#d75541"/>
<path d="M441.21 836.9 V866.9"/>
<rect x="438.20" y="841.0" width="6.02" height="16.5" fill="#50a073"/>
<path d="M449.57 790.9 V845.9"/>
<rect x="446.56" y="800.9" width="6.02" height="39.8" fill="#50a073"/>
<path d="M457.93 730.9 V805.0"/>
<rect x="454.92" y="739.4" width="6.02" height="61.5" fill="#50a073"/>
<path d="M466.29 556.3 V754.1"/>
<rect x="463.28" y="660.3" width="6.02" height="79.1" fill="#50a073"/>
<path d="M474.65 611.0 V689.4"/>
<rect x="471.64" y="657.5" width="6.02" height="2.4" fill="#50a073"/>
<path d="M483.01 590.9 V663.1"/>
<rect x="480.00" y="615.7" width="6.02" height="41.8" fill="#50a073"/>
<path d="M491.37 530.9 V621.9"/>
<rect x="488.36" y="563.4" width="6.02" height="52.3" fill="#50a073"/>
<path d="M499.73 562.8 V629.4"/>
<rect x="496.72" y="563.4" width="6.02" height="16.3" fill="#d75541"/>
<path d="M508.09 503.2 V597.5"/>
<rect x="505.08" y="529.4" width="6.02" height="50.3" fill="#50a073"/>
<path d="M516.45 310.4 V550.6"/>
<rect x="513.44" y="339.4" width="6.02" height="189.6" fill="#50a073"/>
<path d="M524.81 262.8 V397.8"/>
<rect x="521.80" y="339.4" width="6.02" height="28.7" fill="#d75541"/>
<path d="M533.17 337.8 V393.4"/>
<rect x="530.16" y="363.8" width="6.02" height="4.3" fill="#50a073"/>
<path d="M541.53 307.2 V379.9"/>
<rect x="538.52" y="351.3" width="6.02" height="12.2" fill="#50a073"/>
<path d="M549.89 267.4 V370.6"/>
<rect x="546.88" y="310.0" width="6.02" height="41.3" fill="#50a073"/>
<path d="M558.25 298.2 V364.4"/>
<rect x="555.24" y="309.6" width="6.02" height="0.8" fill="#50a073"/>
<path d="M566.61 309.6 V536.5"/>
<rect x="563.60" y="310.0" width="6.02" height="156.9" fill="#d75541"/>
<path d="M574.97 432.3 V564.1"/>
<rect x="571.96" y="466.8" width="6.02" height="16.3" fill="#d75541"/>
<path d="M583.33 476.6 V545.9"/>
<rect x="580.32" y="483.7" width="6.02" height="0.8" fill="#d75541"/>
<path d="M591.69 452.6 V498.5"/>
<rect x="588.68" y="474.3" width="6.02" height="10.1" fill="#50a073"/>
<path d="M600.05 438.1 V478.4"/>
<rect x="597.04" y="443.2" width="6.02" height="31.1" fill="#50a073"/>
<path d="M608.41 404.4 V498.7"/>
<rect x="605.40" y="443.2" width="6.02" height="49.3" fill="#d75541"/>
<path d="M616.77 466.3 V522.1"/>
<rect x="613.76" y="490.3" width="6.02" height="1.9" fill="#50a073"/>
<path d="M625.13 475.6 V545.0"/>
<rect x="622.12" y="490.6" width="6.02" height="13.5" fill="#d75541"/>
<path d="M633.49 469.6 V540.3"/>
<rect x="630.48" y="504.1" width="6.02" height="31.5" fill="#d75541"/>
<path d="M641.85 521.0 V591.3"/>
<rect x="638.84" y="536.0" width="6.02" height="25.9" fill="#d75541"/>
<path d="M650.21 537.1 V656.9"/>
<rect x="647.20" y="561.9" width="6.02" height="81.9" fill="#d75541"/>
<path d="M658.57 561.9 V661.6"/>
<rect x="655.56" y="567.9" width="6.02" height="75.9" fill="#50a073"/>
<path d="M666.93 507.5 V574.4"/>
<rect x="663.92" y="514.6" width="6.02" height="53.3" fill="#50a073"/>
<path d="M675.29 500.0 V580.6"/>
<rect x="672.28" y="514.6" width="6.02" height="46.9" fill="#d75541"/>
<path d="M683.65 539.4 V587.2"/>
<rect x="680.64" y="549.7" width="6.02" height="11.8" fill="#50a073"/>
<path d="M692.01 402.9 V560.6"/>
<rect x="689.00" y="408.5" width="6.02" height="140.8" fill="#50a073"/>
<path d="M700.37 382.2 V457.3"/>
<rect x="697.36" y="408.5" width="6.02" height="14.4" fill="#d75541"/>
<path d="M708.73 397.2 V455.8"/>
<rect x="705.72" y="422.9" width="6.02" height="25.3" fill="#d75541"/>
<path d="M717.09 426.3 V480.1"/>
<rect x="714.08" y="448.8" width="6.02" height="16.3" fill="#d75541"/>
<path d="M725.45 402.9 V494.4"/>
<rect x="722.44" y="465.3" width="6.02" height="24.8" fill="#d75541"/>
<path d="M733.81 414.7 V500.4"/>
<rect x="730.80" y="431.0" width="6.02" height="58.7" fill="#50a073"/>
<path d="M742.17 402.3 V458.6"/>
<rect x="739.16" y="428.2" width="6.02" height="2.8" fill="#50a073"/>
<path d="M750.53 395.4 V548.8"/>
<rect x="747.52" y="427.8" width="6.02" height="83.4" fill="#d75541"/>
<path d="M758.89 484.6 V544.1"/>
<rect x="755.88" y="511.3" width="6.02" height="0.8" fill="#d75541"/>
<path d="M767.25 479.0 V514.4"/>
<rect x="764.24" y="500.4" width="6.02" height="11.4" fill="#50a073"/>
<path d="M775.61 483.1 V511.8"/>
<rect x="772.60" y="500.4" width="6.02" height="7.1" fill="#d75541"/>
<path d="M783.97 504.7 V570.3"/>
<rect x="780.96" y="507.9" width="6.02" height="10.9" fill="#d75541"/>
<path d="M792.33 511.3 V609.7"/>
<rect x="789.32" y="519.1" width="6.02" height="85.9" fill="#d75541"/>
<path d="M800.69 550.3 V622.8"/>
<rect x="797.68" y="566.6" width="6.02" height="38.4" fill="#50a073"/>
<path d="M809.05 563.2 V612.5"/>
<rect x="806.04" y="566.6" width="6.02" height="41.6" fill="#d75541"/>
<path d="M817.41 500.4 V638.4"/>
<rect x="814.40" y="513.5" width="6.02" height="95.3" fill="#50a073"/>
<path d="M825.77 513.1 V557.8"/>
<rect x="822.76" y="513.5" width="6.02" height="10.9" fill="#d75541"/>
<path d="M834.13 490.6 V550.3"/>
<rect x="831.12" y="524.4" width="6.02" height="9.8" fill="#d75541"/>
<path d="M842.49 523.4 V620.9"/>
<rect x="839.48" y="534.3" width="6.02" height="71.6" fill="#d75541"/>
<path d="M850.85 510.9 V610.6"/>
<rect x="847.84" y="540.3" width="6.02" height="65.6" fill="#50a073"/>
<path d="M859.21 526.3 V560.9"/>
<rect x="856.20" y="540.3" width="6.02" height="18.4" fill="#d75541"/>
<path d="M867.57 534.7 V569.0"/>
<rect x="864.56" y="558.7" width="6.02" height="0.8" fill="#d75541"/>
<path d="M875.93 556.3 V641.6"/>
<rect x="872.92" y="560.0" width="6.02" height="62.3" fill="#d75541"/>
<path d="M884.29 616.3 V647.2"/>
<rect x="881.28" y="622.4" width="6.02" height="0.8" fill="#d75541"/>
<path d="M892.65 601.6 V643.1"/>
<rect x="889.64" y="623.4" width="6.02" height="18.2" fill="#d75541"/>
<path d="M901.01 614.8 V674.4"/>
<rect x="898.00" y="641.9" width="6.02" height="6.2" fill="#d75541"/>
<path d="M909.37 603.5 V652.8"/>
<rect x="906.36" y="604.6" width="6.02" height="43.5" fill="#50a073"/>
<path d="M917.73 594.3 V626.0"/>
<rect x="914.72" y="604.6" width="6.02" height="7.3" fill="#d75541"/>
<path d="M926.09 604.6 V636.9"/>
<rect x="923.08" y="612.5" width="6.02" height="20.6" fill="#d75541"/>
<path d="M934.45 595.3 V640.3"/>
<rect x="931.44" y="625.1" width="6.02" height="8.1" fill="#50a073"/>
<path d="M942.81 619.1 V633.1"/>
<rect x="939.80" y="625.1" width="6.02" height="1.9" fill="#d75541"/>
<path d="M951.17 576.5 V627.5"/>
<rect x="948.16" y="598.1" width="6.02" height="28.9" fill="#50a073"/>
<path d="M959.53 547.4 V603.7"/>
<rect x="956.52" y="558.5" width="6.02" height="39.6" fill="#50a073"/>
<path d="M967.89 530.4 V573.1"/>
<rect x="964.88" y="558.5" width="6.02" height="9.6" fill="#d75541"/>
<path d="M976.25 535.6 V572.2"/>
<rect x="973.24" y="552.5" width="6.02" height="15.6" fill="#50a073"/>
<path d="M984.61 524.9 V566.0"/>
<rect x="981.60" y="528.5" width="6.02" height="24.0" fill="#50a073"/>
<path d="M992.97 487.3 V537.1"/>
<rect x="989.96" y="500.4" width="6.02" height="28.1" fill="#50a073"/>
<path d="M1001.33 466.3 V506.6"/>
<rect x="998.32" y="494.4" width="6.02" height="6.0" fill="#50a073"/>
<path d="M1009.69 491.6 V540.3"/>
<rect x="1006.68" y="494.4" width="6.02" height="38.8" fill="#d75541"/>
<path d="M1018.05 517.4 V564.7"/>
<rect x="1015.04" y="533.8" width="6.02" height="12.8" fill="#d75541"/>
<path d="M1026.41 521.0 V560.0"/>
<rect x="1023.40" y="529.6" width="6.02" height="16.9" fill="#50a073"/>
<path d="M1034.77 499.6 V552.5"/>
<rect x="1031.76" y="509.4" width="6.02" height="20.1" fill="#50a073"/>
<path d="M1043.13 485.9 V521.0"/>
<rect x="1040.12" y="509.4" width="6.02" height="4.7" fill="#d75541"/>
<path d="M1051.49 505.6 V554.0"/>
<rect x="1048.48" y="514.1" width="6.02" height="35.3" fill="#d75541"/>
<path d="M1059.85 542.2 V559.4"/>
<rect x="1056.84" y="549.7" width="6.02" height="6.6" fill="#d75541"/>
<path d="M1068.21 540.3 V564.7"/>
<rect x="1065.20" y="556.6" width="6.02" height="1.5" fill="#d75541"/>
<path d="M1076.57 556.6 V674.4"/>
<rect x="1073.56" y="558.5" width="6.02" height="50.3" fill="#d75541"/>
<path d="M1084.93 590.6 V631.3"/>
<rect x="1081.92" y="609.1" width="6.02" height="11.3" fill="#d75541"/>
<path d="M1093.29 547.8 V635.9"/>
<rect x="1090.28" y="577.4" width="6.02" height="42.9" fill="#50a073"/>
<path d="M1101.65 569.4 V663.1"/>
<rect x="1098.64" y="577.4" width="6.02" height="77.8" fill="#d75541"/>
<path d="M1110.01 628.1 V674.4"/>
<rect x="1107.00" y="638.8" width="6.02" height="16.5" fill="#50a073"/>
<path d="M1118.37 619.6 V646.3"/>
<rect x="1115.36" y="629.4" width="6.02" height="9.0" fill="#50a073"/>
<path d="M1126.73 602.2 V645.3"/>
<rect x="1123.72" y="602.6" width="6.02" height="26.8" fill="#50a073"/>
<path d="M1135.09 576.9 V610.6"/>
<rect x="1132.08" y="596.9" width="6.02" height="5.3" fill="#50a073"/>
<path d="M1143.45 585.9 V625.3"/>
<rect x="1140.44" y="596.9" width="6.02" height="14.1" fill="#d75541"/>
<path d="M1151.81 562.8 V624.7"/>
<rect x="1148.80" y="567.5" width="6.02" height="43.5" fill="#50a073"/>
<path d="M1160.17 503.4 V570.3"/>
<rect x="1157.16" y="528.5" width="6.02" height="39.0" fill="#50a073"/>
<path d="M1168.53 505.3 V543.1"/>
<rect x="1165.52" y="527.8" width="6.02" height="0.8" fill="#50a073"/>
<path d="M1176.89 523.1 V571.3"/>
<rect x="1173.88" y="528.5" width="6.02" height="30.2" fill="#d75541"/>
<path d="M1185.25 515.6 V567.5"/>
<rect x="1182.24" y="558.3" width="6.02" height="0.8" fill="#50a073"/>
<path d="M1193.61 524.4 V564.1"/>
<rect x="1190.60" y="550.6" width="6.02" height="7.9" fill="#50a073"/>
<path d="M1201.97 545.4 V609.7"/>
<rect x="1198.96" y="550.6" width="6.02" height="58.1" fill="#d75541"/>
<path d="M1210.33 578.4 V617.2"/>
<rect x="1207.32" y="597.1" width="6.02" height="11.6" fill="#50a073"/>
<path d="M1218.69 596.8 V643.1"/>
<rect x="1215.68" y="597.1" width="6.02" height="33.2" fill="#d75541"/>
<path d="M1227.05 615.3 V1291.9"/>
<rect x="1224.04" y="630.2" width="6.02" height="185.1" fill="#d75541"/>
<path d="M1235.41 757.2 V844.9"/>
<rect x="1232.40" y="810.3" width="6.02" height="5.1" fill="#50a073"/>
<path d="M1243.77 724.0 V840.1"/>
<rect x="1240.76" y="747.4" width="6.02" height="62.8" fill="#50a073"/>
<path d="M1252.13 697.6 V754.0"/>
<rect x="1249.12" y="714.4" width="6.02" height="33.0" fill="#50a073"/>
<path d="M1260.49 708.1 V806.9"/>
<rect x="1257.48" y="714.4" width="6.02" height="43.7" fill="#d75541"/>
<path d="M1268.85 739.4 V812.5"/>
<rect x="1265.84" y="758.1" width="6.02" height="39.4" fill="#d75541"/>
<path d="M1277.21 774.1 V852.4"/>
<rect x="1274.20" y="797.5" width="6.02" height="35.6" fill="#d75541"/>
<path d="M1285.57 803.1 V892.2"/>
<rect x="1282.56" y="833.1" width="6.02" height="14.6" fill="#d75541"/>
<path d="M1293.93 806.3 V849.1"/>
<rect x="1290.92" y="819.4" width="6.02" height="28.3" fill="#50a073"/>
<path d="M1302.29 794.3 V837.4"/>
<rect x="1299.28" y="806.3" width="6.02" height="13.1" fill="#50a073"/>
<path d="M1310.65 737.1 V821.5"/>
<rect x="1307.64" y="761.9" width="6.02" height="44.4" fill="#50a073"/>
<path d="M1319.01 745.9 V801.6"/>
<rect x="1316.00" y="761.9" width="6.02" height="30.9" fill="#d75541"/>
<path d="M1327.37 786.8 V834.4"/>
<rect x="1324.36" y="793.2" width="6.02" height="24.0" fill="#d75541"/>
<path d="M1335.73 791.5 V818.5"/>
<rect x="1332.72" y="804.6" width="6.02" height="12.9" fill="#50a073"/>
<path d="M1344.09 753.4 V808.2"/>
<rect x="1341.08" y="755.3" width="6.02" height="49.3" fill="#50a073"/>
<path d="M1352.45 693.8 V758.5"/>
<rect x="1349.44" y="718.8" width="6.02" height="36.2" fill="#50a073"/>
<path d="M1360.81 690.3 V719.7"/>
<rect x="1357.80" y="697.2" width="6.02" height="21.2" fill="#50a073"/>
<path d="M1369.17 675.1 V715.9"/>
<rect x="1366.16" y="697.2" width="6.02" height="4.7" fill="#d75541"/>
<path d="M1377.53 679.4 V730.4"/>
<rect x="1374.52" y="701.9" width="6.02" height="13.5" fill="#d75541"/>
<path d="M1385.89 689.3 V743.5"/>
<rect x="1382.88" y="715.4" width="6.02" height="22.5" fill="#d75541"/>
<path d="M1394.25 719.3 V812.1"/>
<rect x="1391.24" y="738.1" width="6.02" height="47.3" fill="#d75541"/>
<path d="M1402.61 736.2 V789.1"/>
<rect x="1399.60" y="755.7" width="6.02" height="29.6" fill="#50a073"/>
<path d="M1410.97 750.1 V769.4"/>
<rect x="1407.96" y="755.9" width="6.02" height="0.8" fill="#d75541"/>
<path d="M1419.33 736.2 V768.4"/>
<rect x="1416.32" y="748.2" width="6.02" height="9.0" fill="#50a073"/>
<path d="M1427.69 746.3 V860.9"/>
<rect x="1424.68" y="748.2" width="6.02" height="93.0" fill="#d75541"/>
<path d="M1436.05 817.2 V917.5"/>
<rect x="1433.04" y="841.2" width="6.02" height="44.4" fill="#d75541"/>
<path d="M1444.41 812.9 V917.5"/>
<rect x="1441.40" y="826.9" width="6.02" height="58.7" fill="#50a073"/>
<path d="M1452.77 796.0 V896.9"/>
<rect x="1449.76" y="826.9" width="6.02" height="55.5" fill="#d75541"/>
<path d="M1461.13 814.4 V907.6"/>
<rect x="1458.12" y="838.4" width="6.02" height="44.1" fill="#50a073"/>
<path d="M1469.49 829.0 V869.7"/>
<rect x="1466.48" y="838.4" width="6.02" height="12.9" fill="#d75541"/>
<path d="M1477.85 805.0 V871.0"/>
<rect x="1474.84" y="816.6" width="6.02" height="34.7" fill="#50a073"/>
<path d="M1486.21 725.3 V825.3"/>
<rect x="1483.20" y="748.4" width="6.02" height="68.3" fill="#50a073"/>
<path d="M1494.57 730.0 V811.6"/>
<rect x="1491.56" y="748.4" width="6.02" height="57.6" fill="#d75541"/>
<path d="M1502.93 781.6 V837.8"/>
<rect x="1499.92" y="806.1" width="6.02" height="0.8" fill="#d75541"/>
<path d="M1511.29 748.8 V855.6"/>
<rect x="1508.28" y="807.4" width="6.02" height="28.1" fill="#d75541"/>
<path d="M1519.65 828.1 V876.8"/>
<rect x="1516.64" y="835.6" width="6.02" height="33.8" fill="#d75541"/>
<path d="M1528.01 844.0 V883.4"/>
<rect x="1525.00" y="869.3" width="6.02" height="2.6" fill="#d75541"/>
<path d="M1536.37 854.3 V906.3"/>
<rect x="1533.36" y="872.1" width="6.02" height="9.4" fill="#d75541"/>
<path d="M1544.73 842.1 V924.6"/>
<rect x="1541.72" y="881.5" width="6.02" height="21.9" fill="#d75541"/>
<path d="M1553.09 870.6 V927.8"/>
<rect x="1550.08" y="880.6" width="6.02" height="22.9" fill="#50a073"/>
<path d="M1561.45 880.0 V962.9"/>
<rect x="1558.44" y="880.6" width="6.02" height="46.3" fill="#d75541"/>
<path d="M1569.81 910.0 V984.6"/>
<rect x="1566.80" y="926.9" width="6.02" height="46.9" fill="#d75541"/>
<path d="M1578.17 961.0 V1050.6"/>
<rect x="1575.16" y="973.8" width="6.02" height="21.2" fill="#d75541"/>
<path d="M1586.53 987.8 V1021.6"/>
<rect x="1583.52" y="994.6" width="6.02" height="0.8" fill="#50a073"/>
<path d="M1594.89 937.8 V995.7"/>
<rect x="1591.88" y="952.8" width="6.02" height="42.2" fill="#50a073"/>
<path d="M1603.25 851.3 V963.4"/>
<rect x="1600.24" y="876.3" width="6.02" height="76.5" fill="#50a073"/>
<path d="M1611.61 860.3 V910.0"/>
<rect x="1608.60" y="876.3" width="6.02" height="10.3" fill="#d75541"/>
<path d="M1619.97 865.0 V911.9"/>
<rect x="1616.96" y="878.5" width="6.02" height="8.1" fill="#50a073"/>
<path d="M1628.33 873.4 V899.7"/>
<rect x="1625.32" y="878.5" width="6.02" height="9.4" fill="#d75541"/>
<path d="M1636.69 856.2 V906.6"/>
<rect x="1633.68" y="888.4" width="6.02" height="8.1" fill="#d75541"/>
<path d="M1645.05 878.5 V902.5"/>
<rect x="1642.04" y="887.9" width="6.02" height="8.6" fill="#50a073"/>
<path d="M1653.41 881.9 V908.1"/>
<rect x="1650.40" y="887.9" width="6.02" height="19.3" fill="#d75541"/>
<path d="M1661.77 906.8 V980.9"/>
<rect x="1658.76" y="907.2" width="6.02" height="53.4" fill="#d75541"/>
<path d="M1670.13 895.9 V975.6"/>
<rect x="1667.12" y="908.1" width="6.02" height="52.5" fill="#50a073"/>
<path d="M1678.49 880.0 V912.8"/>
<rect x="1675.48" y="889.4" width="6.02" height="18.8" fill="#50a073"/>
<path d="M1686.85 882.3 V944.1"/>
<rect x="1683.84" y="889.4" width="6.02" height="43.1" fill="#d75541"/>
<path d="M1695.21 925.6 V968.1"/>
<rect x="1692.20" y="932.5" width="6.02" height="26.6" fill="#d75541"/>
<path d="M1703.57 952.2 V967.2"/>
<rect x="1700.56" y="959.3" width="6.02" height="0.8" fill="#d75541"/>
<path d="M1711.93 926.5 V978.4"/>
<rect x="1708.92" y="955.0" width="6.02" height="5.3" fill="#50a073"/>
<path d="M1720.29 921.3 V960.3"/>
<rect x="1717.28" y="942.8" width="6.02" height="11.8" fill="#50a073"/>
<path d="M1728.65 897.4 V955.6"/>
<rect x="1725.64" y="928.2" width="6.02" height="14.6" fill="#50a073"/>
<path d="M1737.01 926.9 V958.8"/>
<rect x="1734.00" y="928.2" width="6.02" height="27.4" fill="#d75541"/>
<path d="M1745.37 949.4 V983.5"/>
<rect x="1742.36" y="955.9" width="6.02" height="3.2" fill="#d75541"/>
<path d="M1753.73 953.5 V986.9"/>
<rect x="1750.72" y="959.3" width="6.02" height="11.1" fill="#d75541"/>
<path d="M1762.09 953.1 V970.9"/>
<rect x="1759.08" y="964.0" width="6.02" height="6.4" fill="#50a073"/>
<path d="M1770.45 960.6 V993.4"/>
<rect x="1767.44" y="964.0" width="6.02" height="18.8" fill="#d75541"/>
<path d="M1778.81 968.1 V1029.6"/>
<rect x="1775.80" y="983.1" width="6.02" height="34.3" fill="#d75541"/>
<path d="M1787.17 996.3 V1037.1"/>
<rect x="1784.16" y="1003.8" width="6.02" height="13.7" fill="#50a073"/>
<path d="M1795.53 979.4 V1038.4"/>
<rect x="1792.52" y="1004.1" width="6.02" height="28.1" fill="#d75541"/>
<path d="M1803.89 997.2 V1059.1"/>
<rect x="1800.88" y="1032.4" width="6.02" height="23.8" fill="#d75541"/>
<path d="M1812.25 1007.1 V1071.6"/>
<rect x="1809.24" y="1012.8" width="6.02" height="43.5" fill="#50a073"/>
<path d="M1820.61 991.6 V1019.1"/>
<rect x="1817.60" y="1002.3" width="6.02" height="10.3" fill="#50a073"/>
<path d="M1828.97 995.3 V1018.4"/>
<rect x="1825.96" y="1002.3" width="6.02" height="4.7" fill="#d75541"/>
<path d="M1837.33 995.3 V1019.7"/>
<rect x="1834.32" y="1006.9" width="6.02" height="7.7" fill="#d75541"/>
<path d="M1845.69 1008.4 V1032.8"/>
<rect x="1842.68" y="1014.6" width="6.02" height="13.5" fill="#d75541"/>
<path d="M1854.05 1026.3 V1043.5"/>
<rect x="1851.04" y="1028.1" width="6.02" height="4.3" fill="#d75541"/>
<path d="M1862.41 1021.6 V1046.9"/>
<rect x="1859.40" y="1032.4" width="6.02" height="13.1" fill="#d75541"/>
<path d="M1870.77 1024.0 V1048.8"/>
<rect x="1867.76" y="1040.9" width="6.02" height="4.7" fill="#50a073"/>
<path d="M1879.13 1026.3 V1041.3"/>
<rect x="1876.12" y="1027.8" width="6.02" height="13.1" fill="#50a073"/>
<path d="M1887.49 1026.3 V1035.6"/>
<rect x="1884.48" y="1028.1" width="6.02" height="2.8" fill="#d75541"/>
<path d="M1895.85 1009.4 V1039.8"/>
<rect x="1892.84" y="1031.5" width="6.02" height="6.4" fill="#d75541"/>
<path d="M1904.21 1023.1 V1040.7"/>
<rect x="1901.20" y="1026.3" width="6.02" height="11.3" fill="#50a073"/>
<path d="M1912.57 1024.4 V1054.0"/>
<rect x="1909.56" y="1026.3" width="6.02" height="15.0" fill="#d75541"/>
<path d="M1920.93 1025.3 V1048.2"/>
<rect x="1917.92" y="1025.7" width="6.02" height="15.6" fill="#50a073"/>
<path d="M1929.29 960.6 V1030.0"/>
<rect x="1926.28" y="970.6" width="6.02" height="54.4" fill="#50a073"/>
<path d="M1937.65 949.9 V980.3"/>
<rect x="1934.64" y="965.9" width="6.02" height="4.7" fill="#50a073"/>
<path d="M1946.01 922.2 V966.3"/>
<rect x="1943.00" y="934.8" width="6.02" height="31.1" fill="#50a073"/>
<path d="M1954.37 815.6 V935.6"/>
<rect x="1951.36" y="824.6" width="6.02" height="110.1" fill="#50a073"/>
<path d="M1962.73 795.4 V885.6"/>
<rect x="1959.72" y="824.6" width="6.02" height="18.6" fill="#d75541"/>
<path d="M1971.09 836.8 V908.8"/>
<rect x="1968.08" y="843.4" width="6.02" height="59.4" fill="#d75541"/>
<path d="M1979.45 891.6 V945.9"/>
<rect x="1976.44" y="902.8" width="6.02" height="17.8" fill="#d75541"/>
<path d="M1987.81 904.7 V942.2"/>
<rect x="1984.80" y="921.0" width="6.02" height="11.4" fill="#d75541"/>
<path d="M1996.17 926.6 V939.0"/>
<rect x="1993.16" y="932.8" width="6.02" height="2.3" fill="#d75541"/>
<path d="M2004.53 926.8 V954.0"/>
<rect x="2001.52" y="935.1" width="6.02" height="6.6" fill="#d75541"/>
<path d="M2012.89 927.6 V958.5"/>
<rect x="2009.88" y="942.2" width="6.02" height="8.1" fill="#d75541"/>
<path d="M2021.25 894.8 V953.4"/>
<rect x="2018.24" y="902.8" width="6.02" height="47.4" fill="#50a073"/>
<path d="M2029.61 891.6 V925.9"/>
<rect x="2026.60" y="902.8" width="6.02" height="10.9" fill="#d75541"/>
<path d="M2037.97 912.2 V951.0"/>
<rect x="2034.96" y="913.7" width="6.02" height="26.3" fill="#d75541"/>
<path d="M2046.33 936.6 V962.3"/>
<rect x="2043.32" y="939.9" width="6.02" height="4.7" fill="#d75541"/>
<path d="M2054.69 938.4 V950.6"/>
<rect x="2051.68" y="944.6" width="6.02" height="1.9" fill="#d75541"/>
<path d="M2063.05 945.0 V979.7"/>
<rect x="2060.04" y="946.5" width="6.02" height="31.3" fill="#d75541"/>
<path d="M2071.41 960.9 V1038.8"/>
<rect x="2068.40" y="977.4" width="6.02" height="2.3" fill="#d75541"/>
<path d="M2079.77 977.8 V1029.4"/>
<rect x="2076.76" y="979.7" width="6.02" height="41.3" fill="#d75541"/>
<path d="M2088.13 978.4 V1028.4"/>
<rect x="2085.12" y="996.2" width="6.02" height="24.8" fill="#50a073"/>
<path d="M2096.49 987.6 V1015.9"/>
<rect x="2093.48" y="996.2" width="6.02" height="10.1" fill="#d75541"/>
<path d="M2104.85 988.7 V1021.9"/>
<rect x="2101.84" y="1006.3" width="6.02" height="1.9" fill="#d75541"/>
<path d="M2113.21 1005.0 V1011.9"/>
<rect x="2110.20" y="1008.2" width="6.02" height="2.4" fill="#d75541"/>
<path d="M2121.57 1009.7 V1054.7"/>
<rect x="2118.56" y="1010.3" width="6.02" height="33.8" fill="#d75541"/>
<path d="M2129.93 997.1 V1045.3"/>
<rect x="2126.92" y="1014.4" width="6.02" height="29.6" fill="#50a073"/>
<path d="M2138.29 1004.1 V1027.5"/>
<rect x="2135.28" y="1010.1" width="6.02" height="4.3" fill="#50a073"/>
<path d="M2146.65 998.4 V1018.7"/>
<rect x="2143.64" y="1010.1" width="6.02" height="1.5" fill="#d75541"/>
<path d="M2155.01 1010.9 V1068.1"/>
<rect x="2152.00" y="1011.9" width="6.02" height="43.7" fill="#d75541"/>
<path d="M2163.37 1054.1 V1097.2"/>
<rect x="2160.36" y="1055.9" width="6.02" height="31.3" fill="#d75541"/>
<path d="M2171.73 1079.4 V1186.3"/>
<rect x="2168.72" y="1087.3" width="6.02" height="37.1" fill="#d75541"/>
<path d="M2180.09 1110.9 V1165.1"/>
<rect x="2177.08" y="1124.8" width="6.02" height="24.0" fill="#d75541"/>
<path d="M2188.45 1121.0 V1174.4"/>
<rect x="2185.44" y="1136.6" width="6.02" height="12.2" fill="#50a073"/>
<path d="M2196.81 1130.9 V1175.6"/>
<rect x="2193.80" y="1136.6" width="6.02" height="17.4" fill="#d75541"/>
<path d="M2205.17 1140.3 V1189.1"/>
<rect x="2202.16" y="1154.0" width="6.02" height="28.5" fill="#d75541"/>
<path d="M2213.53 1181.6 V1342.8"/>
<rect x="2210.52" y="1182.9" width="6.02" height="127.2" fill="#d75541"/>
<path d="M2221.89 1169.4 V1351.5"/>
<rect x="2218.88" y="1200.9" width="6.02" height="109.2" fill="#50a073"/>
<path d="M2230.25 1193.8 V1236.5"/>
<rect x="2227.24" y="1200.9" width="6.02" height="20.1" fill="#d75541"/>
<path d="M2238.61 1200.3 V1226.6"/>
<rect x="2235.60" y="1217.6" width="6.02" height="3.4" fill="#50a073"/>
<path d="M2246.97 1204.1 V1241.9"/>
<rect x="2243.96" y="1214.9" width="6.02" height="2.6" fill="#50a073"/>
<path d="M2255.33 1208.4 V1234.1"/>
<rect x="2252.32" y="1214.9" width="6.02" height="15.4" fill="#d75541"/>
<path d="M2263.69 1222.8 V1255.3"/>
<rect x="2260.68" y="1230.9" width="6.02" height="12.9" fill="#d75541"/>
<path d="M2272.05 1227.5 V1253.4"/>
<rect x="2269.04" y="1243.8" width="6.02" height="2.4" fill="#d75541"/>
<path d="M2280.41 1219.1 V1252.4"/>
<rect x="2277.40" y="1227.5" width="6.02" height="18.8" fill="#50a073"/>
<path d="M2288.77 1182.5 V1228.4"/>
<rect x="2285.76" y="1183.8" width="6.02" height="43.7" fill="#50a073"/>
<path d="M2297.13 1114.6 V1211.2"/>
<rect x="2294.12" y="1183.8" width="6.02" height="14.3" fill="#d75541"/>
<path d="M2305.49 1179.7 V1209.3"/>
<rect x="2302.48" y="1193.8" width="6.02" height="4.3" fill="#50a073"/>
<path d="M2313.85 1190.6 V1219.1"/>
<rect x="2310.84" y="1193.8" width="6.02" height="5.1" fill="#d75541"/>
<path d="M2322.21 1190.9 V1226.0"/>
<rect x="2319.20" y="1199.4" width="6.02" height="22.1" fill="#d75541"/>
<path d="M2330.57 1214.9 V1238.2"/>
<rect x="2327.56" y="1221.5" width="6.02" height="6.4" fill="#d75541"/>
<path d="M2338.93 1214.0 V1239.7"/>
<rect x="2335.92" y="1218.1" width="6.02" height="9.8" fill="#50a073"/>
<path d="M2347.29 1203.7 V1221.9"/>
<rect x="2344.28" y="1217.4" width="6.02" height="0.8" fill="#50a073"/>
<path d="M2355.65 1216.3 V1238.8"/>
<rect x="2352.64" y="1217.8" width="6.02" height="15.9" fill="#d75541"/>
<path d="M2364.01 1220.0 V1260.3"/>
<rect x="2361.00" y="1233.7" width="6.02" height="17.6" fill="#d75541"/>
<path d="M2372.37 1244.9 V1267.8"/>
<rect x="2369.36" y="1251.5" width="6.02" height="0.8" fill="#d75541"/>
<path d="M2380.73 1190.9 V1256.6"/>
<rect x="2377.72" y="1216.3" width="6.02" height="36.6" fill="#50a073"/>
<path d="M2389.09 1201.3 V1237.8"/>
<rect x="2386.08" y="1216.3" width="6.02" height="13.1" fill="#d75541"/>
<path d="M2397.45 1220.0 V1256.6"/>
<rect x="2394.44" y="1229.8" width="6.02" height="19.7" fill="#d75541"/>
<path d="M2405.81 1234.1 V1283.8"/>
<rect x="2402.80" y="1241.2" width="6.02" height="8.3" fill="#50a073"/>
<path d="M2414.17 1217.2 V1257.5"/>
<rect x="2411.16" y="1241.2" width="6.02" height="9.8" fill="#d75541"/>
<path d="M2422.53 1221.9 V1258.4"/>
<rect x="2419.52" y="1235.0" width="6.02" height="15.9" fill="#50a073"/>
<path d="M2430.89 1228.4 V1257.5"/>
<rect x="2427.88" y="1235.0" width="6.02" height="12.8" fill="#d75541"/>
<path d="M2439.25 1199.9 V1253.8"/>
<rect x="2436.24" y="1217.6" width="6.02" height="30.2" fill="#50a073"/>
<path d="M2447.61 1208.8 V1232.2"/>
<rect x="2444.60" y="1217.6" width="6.02" height="11.4" fill="#d75541"/>
<path d="M2455.97 1225.6 V1253.4"/>
<rect x="2452.96" y="1229.0" width="6.02" height="17.3" fill="#d75541"/>
<path d="M2464.33 1241.9 V1252.8"/>
<rect x="2461.32" y="1246.6" width="6.02" height="2.4" fill="#d75541"/>
<path d="M2472.69 1243.4 V1263.7"/>
<rect x="2469.68" y="1249.1" width="6.02" height="7.5" fill="#d75541"/>
<path d="M2481.05 1237.8 V1259.0"/>
<rect x="2478.04" y="1246.6" width="6.02" height="9.9" fill="#50a073"/>
<path d="M2489.41 1212.5 V1247.4"/>
<rect x="2486.40" y="1236.5" width="6.02" height="10.1" fill="#50a073"/>
<path d="M2497.77 1226.2 V1242.5"/>
<rect x="2494.76" y="1236.5" width="6.02" height="0.8" fill="#d75541"/>
<path d="M2506.13 1235.0 V1245.3"/>
<rect x="2503.12" y="1237.1" width="6.02" height="0.8" fill="#d75541"/>
<path d="M2514.49 1214.4 V1238.0"/>
<rect x="2511.48" y="1216.8" width="6.02" height="20.6" fill="#50a073"/>
</g>
<g font-family="Liberation Sans, sans-serif" font-size="16" fill="#666" letter-spacing="0.1">
<text x="2533" y="123.1">4.0</text>
<text x="2533" y="337.2">3.5</text>
<text x="2533" y="551.4">3.0</text>
<text x="2533" y="765.5">2.5</text>
<text x="2533" y="979.6">2.0</text>
<text x="2533" y="1193.7">1.5</text>
<text x="2533" y="1407.8">1.0</text>
<text x="131.9" y="1432" text-anchor="middle">Jun 2025</text>
<text x="382.7" y="1432" text-anchor="middle">Jul 2025</text>
<text x="641.8" y="1432" text-anchor="middle">Aug 2025</text>
<text x="901.0" y="1432" text-anchor="middle">Sep 2025</text>
<text x="1151.8" y="1432" text-anchor="middle">Oct 2025</text>
<text x="1411.0" y="1432" text-anchor="middle">Nov 2025</text>
<text x="1661.8" y="1432" text-anchor="middle">Dec 2025</text>
<text x="1920.9" y="1432" text-anchor="middle">Jan 2026</text>
<text x="2180.1" y="1432" text-anchor="middle">Feb 2026</text>
<text x="2414.2" y="1432" text-anchor="middle">Mar 2026</text>
</g>
<text x="1134.5" y="36" textLength="115.6" lengthAdjust="spacingAndGlyphs" font-family="Liberation Sans, sans-serif" font-size="23.4" fill="#666">XRP/USDT</text>
<text x="1258.2" y="36" textLength="101.3" lengthAdjust="spacingAndGlyphs" font-family="Liberation Sans, sans-serif" font-size="23.4" fill="#666">(Binance)</text>
<text x="1367.9" y="36" textLength="23.9" lengthAdjust="spacingAndGlyphs" font-family="Liberation Sans, sans-serif" font-size="23.4" fill="#666">—</text>
<text x="1396.7" y="36" textLength="28.2" lengthAdjust="spacingAndGlyphs" font-family="Liberation Sans, sans-serif" font-size="23.4" fill="#666">1D</text>
<text x="1279.7" y="70" text-anchor="middle" textLength="449.5" lengthAdjust="spacing" font-family="Liberation Sans, sans-serif" font-size="16" fill="#666">XRP/USDT — Candele, EMA20/50/100/200, Bollinger, Volume</text>
<g font-family="Liberation Sans, sans-serif" font-size="16" fill="#666" letter-spacing="0.1">
<rect x="785.3" y="88" width="24" height="16" fill="#666" stroke="#666" stroke-width="1.33"/>
<text x="817.3" y="101.1">XRP/USDT</text>
<rect x="912.1" y="88" width="24" height="16" fill="#e5e5e5" stroke="#007bff" stroke-width="2.67"/>
<text x="944.1" y="101.1">EMA20</text>
<rect x="1010.6" y="88" width="24" height="16" fill="#e5e5e5" stroke="#8b5cf6" stroke-width="2.67"/>
<text x="1042.6" y="101.1">EMA50</text>
<rect x="1109.5" y="88" width="24" height="16" fill="#e5e5e5" stroke="#8b4513" stroke-width="2.00"/>
<text x="1141.5" y="101.1">EMA100</text>
<rect x="1217.4" y="88" width="24" height="16" fill="#e5e5e5" stroke="#111" stroke-width="2.00" stroke-dasharray="8 5.33"/>
<text x="1249.4" y="101.1">EMA200</text>
<rect x="1325.4" y="88" width="24" height="16" fill="#e5e5e5" stroke="#999" stroke-width="1.33" stroke-dasharray="4 4"/>
<text x="1357.4" y="101.1">BB Mid (20)</text>
<rect x="1456.1" y="88" width="24" height="16" fill="#e5e5e5" stroke="#c9c9c9" stroke-width="1.33"/>
<text x="1488.1" y="101.1">BB Upper</text>
<rect x="1571.7" y="88" width="24" height="16" fill="#e5e5e5" stroke="#c9c9c9" stroke-width="1.33"/>
<text x="1603.7" y="101.1">BB Lower</text>
<rect x="1688.1" y="88" width="24" height="16" fill="#c9f2dc"/>
<text x="1720.1" y="101.1">Volume</text>
</g>
</svg>
</body></html>
